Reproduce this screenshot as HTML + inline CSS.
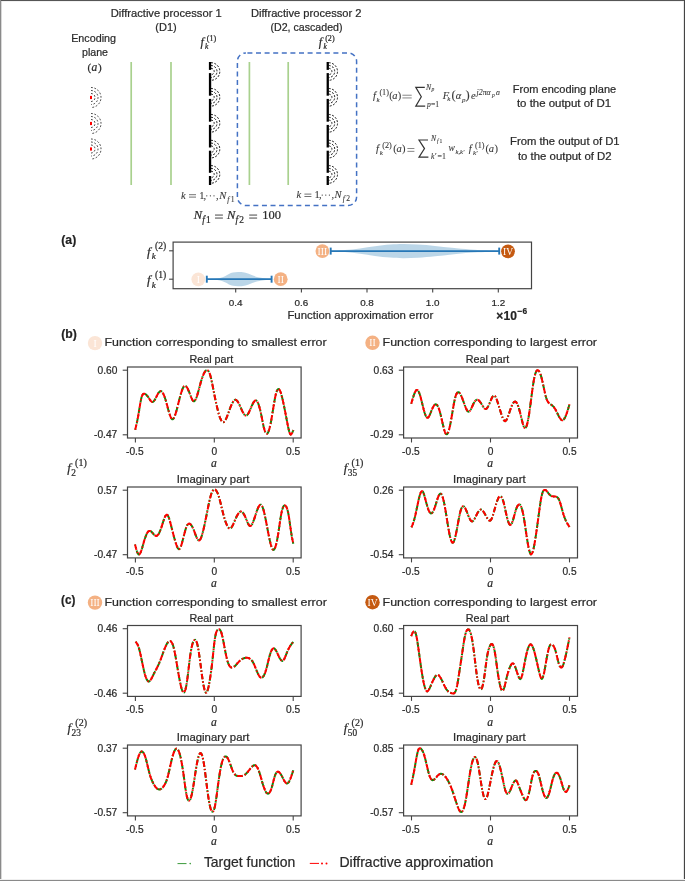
<!DOCTYPE html><html><head><meta charset="utf-8"><style>html,body{margin:0;padding:0;background:#fff;overflow:hidden;}svg{display:block;will-change:transform;} text{stroke:#2a2a2a;stroke-width:0.22px;} text.w{stroke:none;}</style></head><body>
<svg width="685" height="881" viewBox="0 0 685 881">
<rect x="0" y="0" width="685" height="881" fill="#fff"/>
<rect x="0" y="0" width="685" height="1" fill="#555"/>
<rect x="0" y="1" width="685" height="1" fill="#f2f2f2"/>
<rect x="0" y="0" width="1" height="881" fill="#8a8a8a"/>
<rect x="1" y="1" width="1" height="879" fill="#d8d8d8"/>
<rect x="683" y="1" width="1" height="879" fill="#e6e6e6"/>
<rect x="684" y="0" width="1" height="881" fill="#444"/>
<rect x="0" y="879" width="685" height="1" fill="#f0f0f0"/>
<rect x="0" y="880" width="685" height="1" fill="#8a8a8a"/>
<text x="166.2" y="16.9" font-family="Liberation Sans, sans-serif" font-size="11.20" font-weight="normal" font-style="normal" text-anchor="middle" fill="#2a2a2a" textLength="111.0" lengthAdjust="spacingAndGlyphs">Diffractive processor 1</text>
<text x="166.0" y="31.3" font-family="Liberation Sans, sans-serif" font-size="11.20" font-weight="normal" font-style="normal" text-anchor="middle" fill="#2a2a2a" textLength="21.4" lengthAdjust="spacingAndGlyphs">(D1)</text>
<text x="306.2" y="16.9" font-family="Liberation Sans, sans-serif" font-size="11.20" font-weight="normal" font-style="normal" text-anchor="middle" fill="#2a2a2a" textLength="110.5" lengthAdjust="spacingAndGlyphs">Diffractive processor 2</text>
<text x="306.5" y="31.0" font-family="Liberation Sans, sans-serif" font-size="11.20" font-weight="normal" font-style="normal" text-anchor="middle" fill="#2a2a2a" textLength="72.0" lengthAdjust="spacingAndGlyphs">(D2, cascaded)</text>
<text x="93.6" y="41.9" font-family="Liberation Sans, sans-serif" font-size="10.80" font-weight="normal" font-style="normal" text-anchor="middle" fill="#2a2a2a" textLength="44.8" lengthAdjust="spacingAndGlyphs">Encoding</text>
<text x="95.0" y="56.2" font-family="Liberation Sans, sans-serif" font-size="10.80" font-weight="normal" font-style="normal" text-anchor="middle" fill="#2a2a2a" textLength="26.0" lengthAdjust="spacingAndGlyphs">plane</text>
<text font-family="Liberation Serif, serif" font-size="11.00" fill="#2a2a2a"><tspan x="87.6" y="70.5" font-size="11.00">(</tspan><tspan x="91.6" y="70.5" font-size="11.50" font-style="italic">a</tspan><tspan x="98.0" y="70.5" font-size="11.00">)</tspan></text>
<text font-family="Liberation Serif, serif" font-size="12.20" fill="#2a2a2a"><tspan x="200.4" y="46.3" font-size="12.20" font-style="italic">f</tspan><tspan x="205.0" y="48.9" font-size="7.56" font-style="italic">k</tspan><tspan x="206.8" y="40.7" font-size="8.05">(1)</tspan></text>
<text font-family="Liberation Serif, serif" font-size="12.20" fill="#2a2a2a"><tspan x="318.8" y="46.3" font-size="12.20" font-style="italic">f</tspan><tspan x="323.4" y="48.9" font-size="7.56" font-style="italic">k</tspan><tspan x="325.2" y="40.7" font-size="8.05">(2)</tspan></text>
<line x1="131.2" y1="62" x2="131.2" y2="185" stroke="#a9d18e" stroke-width="1.7"/>
<line x1="171.0" y1="62" x2="171.0" y2="185" stroke="#a9d18e" stroke-width="1.7"/>
<line x1="249.4" y1="62" x2="249.4" y2="185" stroke="#a9d18e" stroke-width="1.7"/>
<line x1="288.2" y1="62" x2="288.2" y2="185" stroke="#a9d18e" stroke-width="1.7"/>
<rect x="208.9" y="62.0" width="2.3" height="7.9" fill="#000"/>
<rect x="208.9" y="73.1" width="2.3" height="22.6" fill="#000"/>
<rect x="208.9" y="98.9" width="2.3" height="22.8" fill="#000"/>
<rect x="208.9" y="124.9" width="2.3" height="22.6" fill="#000"/>
<rect x="208.9" y="150.7" width="2.3" height="22.1" fill="#000"/>
<rect x="208.9" y="176.0" width="2.3" height="9.0" fill="#000"/>
<path d="M211.00 68.30 A3.20 3.20 0 0 1 211.00 74.70" fill="none" stroke="#000" stroke-width="0.90" stroke-dasharray="2.0 1.5"/>
<path d="M211.00 65.50 A6.00 6.00 0 0 1 211.00 77.50" fill="none" stroke="#000" stroke-width="0.90" stroke-dasharray="2.0 1.5"/>
<path d="M211.00 62.70 A8.80 8.80 0 0 1 211.00 80.30" fill="none" stroke="#000" stroke-width="0.90" stroke-dasharray="2.0 1.5"/>
<path d="M211.00 94.10 A3.20 3.20 0 0 1 211.00 100.50" fill="none" stroke="#000" stroke-width="0.90" stroke-dasharray="2.0 1.5"/>
<path d="M211.00 91.30 A6.00 6.00 0 0 1 211.00 103.30" fill="none" stroke="#000" stroke-width="0.90" stroke-dasharray="2.0 1.5"/>
<path d="M211.00 88.50 A8.80 8.80 0 0 1 211.00 106.10" fill="none" stroke="#000" stroke-width="0.90" stroke-dasharray="2.0 1.5"/>
<path d="M211.00 120.10 A3.20 3.20 0 0 1 211.00 126.50" fill="none" stroke="#000" stroke-width="0.90" stroke-dasharray="2.0 1.5"/>
<path d="M211.00 117.30 A6.00 6.00 0 0 1 211.00 129.30" fill="none" stroke="#000" stroke-width="0.90" stroke-dasharray="2.0 1.5"/>
<path d="M211.00 114.50 A8.80 8.80 0 0 1 211.00 132.10" fill="none" stroke="#000" stroke-width="0.90" stroke-dasharray="2.0 1.5"/>
<path d="M211.00 145.90 A3.20 3.20 0 0 1 211.00 152.30" fill="none" stroke="#000" stroke-width="0.90" stroke-dasharray="2.0 1.5"/>
<path d="M211.00 143.10 A6.00 6.00 0 0 1 211.00 155.10" fill="none" stroke="#000" stroke-width="0.90" stroke-dasharray="2.0 1.5"/>
<path d="M211.00 140.30 A8.80 8.80 0 0 1 211.00 157.90" fill="none" stroke="#000" stroke-width="0.90" stroke-dasharray="2.0 1.5"/>
<path d="M211.00 171.20 A3.20 3.20 0 0 1 211.00 177.60" fill="none" stroke="#000" stroke-width="0.90" stroke-dasharray="2.0 1.5"/>
<path d="M211.00 168.40 A6.00 6.00 0 0 1 211.00 180.40" fill="none" stroke="#000" stroke-width="0.90" stroke-dasharray="2.0 1.5"/>
<path d="M211.00 165.60 A8.80 8.80 0 0 1 211.00 183.20" fill="none" stroke="#000" stroke-width="0.90" stroke-dasharray="2.0 1.5"/>
<rect x="326.6" y="62.0" width="2.3" height="7.9" fill="#000"/>
<rect x="326.6" y="73.1" width="2.3" height="22.6" fill="#000"/>
<rect x="326.6" y="98.9" width="2.3" height="22.8" fill="#000"/>
<rect x="326.6" y="124.9" width="2.3" height="22.6" fill="#000"/>
<rect x="326.6" y="150.7" width="2.3" height="22.1" fill="#000"/>
<rect x="326.6" y="176.0" width="2.3" height="9.0" fill="#000"/>
<path d="M328.70 68.30 A3.20 3.20 0 0 1 328.70 74.70" fill="none" stroke="#000" stroke-width="0.90" stroke-dasharray="2.0 1.5"/>
<path d="M328.70 65.50 A6.00 6.00 0 0 1 328.70 77.50" fill="none" stroke="#000" stroke-width="0.90" stroke-dasharray="2.0 1.5"/>
<path d="M328.70 62.70 A8.80 8.80 0 0 1 328.70 80.30" fill="none" stroke="#000" stroke-width="0.90" stroke-dasharray="2.0 1.5"/>
<path d="M328.70 94.10 A3.20 3.20 0 0 1 328.70 100.50" fill="none" stroke="#000" stroke-width="0.90" stroke-dasharray="2.0 1.5"/>
<path d="M328.70 91.30 A6.00 6.00 0 0 1 328.70 103.30" fill="none" stroke="#000" stroke-width="0.90" stroke-dasharray="2.0 1.5"/>
<path d="M328.70 88.50 A8.80 8.80 0 0 1 328.70 106.10" fill="none" stroke="#000" stroke-width="0.90" stroke-dasharray="2.0 1.5"/>
<path d="M328.70 120.10 A3.20 3.20 0 0 1 328.70 126.50" fill="none" stroke="#000" stroke-width="0.90" stroke-dasharray="2.0 1.5"/>
<path d="M328.70 117.30 A6.00 6.00 0 0 1 328.70 129.30" fill="none" stroke="#000" stroke-width="0.90" stroke-dasharray="2.0 1.5"/>
<path d="M328.70 114.50 A8.80 8.80 0 0 1 328.70 132.10" fill="none" stroke="#000" stroke-width="0.90" stroke-dasharray="2.0 1.5"/>
<path d="M328.70 145.90 A3.20 3.20 0 0 1 328.70 152.30" fill="none" stroke="#000" stroke-width="0.90" stroke-dasharray="2.0 1.5"/>
<path d="M328.70 143.10 A6.00 6.00 0 0 1 328.70 155.10" fill="none" stroke="#000" stroke-width="0.90" stroke-dasharray="2.0 1.5"/>
<path d="M328.70 140.30 A8.80 8.80 0 0 1 328.70 157.90" fill="none" stroke="#000" stroke-width="0.90" stroke-dasharray="2.0 1.5"/>
<path d="M328.70 171.20 A3.20 3.20 0 0 1 328.70 177.60" fill="none" stroke="#000" stroke-width="0.90" stroke-dasharray="2.0 1.5"/>
<path d="M328.70 168.40 A6.00 6.00 0 0 1 328.70 180.40" fill="none" stroke="#000" stroke-width="0.90" stroke-dasharray="2.0 1.5"/>
<path d="M328.70 165.60 A8.80 8.80 0 0 1 328.70 183.20" fill="none" stroke="#000" stroke-width="0.90" stroke-dasharray="2.0 1.5"/>
<rect x="90" y="95.9" width="2" height="3.2" fill="#ff0000"/>
<path d="M91.00 93.50 A4.00 4.00 0 0 1 91.00 101.50" fill="none" stroke="#000" stroke-width="0.75" stroke-dasharray="1.8 1.7"/>
<path d="M91.00 90.50 A7.00 7.00 0 0 1 91.00 104.50" fill="none" stroke="#000" stroke-width="0.75" stroke-dasharray="1.8 1.7"/>
<path d="M91.00 87.50 A10.00 10.00 0 0 1 91.00 107.50" fill="none" stroke="#000" stroke-width="0.75" stroke-dasharray="1.8 1.7"/>
<rect x="90" y="121.9" width="2" height="3.2" fill="#ff0000"/>
<path d="M91.00 119.50 A4.00 4.00 0 0 1 91.00 127.50" fill="none" stroke="#000" stroke-width="0.75" stroke-dasharray="1.8 1.7"/>
<path d="M91.00 116.50 A7.00 7.00 0 0 1 91.00 130.50" fill="none" stroke="#000" stroke-width="0.75" stroke-dasharray="1.8 1.7"/>
<path d="M91.00 113.50 A10.00 10.00 0 0 1 91.00 133.50" fill="none" stroke="#000" stroke-width="0.75" stroke-dasharray="1.8 1.7"/>
<rect x="90" y="147.4" width="2" height="3.2" fill="#ff0000"/>
<path d="M91.00 145.00 A4.00 4.00 0 0 1 91.00 153.00" fill="none" stroke="#000" stroke-width="0.75" stroke-dasharray="1.8 1.7"/>
<path d="M91.00 142.00 A7.00 7.00 0 0 1 91.00 156.00" fill="none" stroke="#000" stroke-width="0.75" stroke-dasharray="1.8 1.7"/>
<path d="M91.00 139.00 A10.00 10.00 0 0 1 91.00 159.00" fill="none" stroke="#000" stroke-width="0.75" stroke-dasharray="1.8 1.7"/>
<rect x="237.4" y="52.9" width="119.2" height="152.6" rx="8.5" ry="8.5" fill="none" stroke="#4472c4" stroke-width="1.5" stroke-dasharray="5.0 3.6" stroke-dashoffset="-1.5"/>
<rect x="189.0" y="194.4" width="7.0" height="0.75" fill="#444"/><rect x="189.0" y="196.7" width="7.0" height="0.75" fill="#444"/>
<circle cx="206.8" cy="195.8" r="0.62" fill="#333"/>
<circle cx="210.4" cy="195.8" r="0.62" fill="#333"/>
<circle cx="214.0" cy="195.8" r="0.62" fill="#333"/>
<text font-family="Liberation Serif, serif" font-size="10.50" fill="#3a3a3a" style="stroke:#3a3a3a;stroke-width:0.1px"><tspan x="181.0" y="199.0" font-size="10.50" font-style="italic">k</tspan><tspan x="199.2" y="199.0" font-size="10.50">1</tspan><tspan x="203.6" y="199.0" font-size="10.50">,</tspan><tspan x="216.0" y="199.0" font-size="10.50">,</tspan><tspan x="219.2" y="199.0" font-size="10.50" font-style="italic">N</tspan><tspan x="227.3" y="201.6" font-size="7.60" font-style="italic">f</tspan><tspan x="230.8" y="201.6" font-size="7.60">1</tspan></text>
<rect x="304.4" y="193.7" width="7.0" height="0.75" fill="#444"/><rect x="304.4" y="196.0" width="7.0" height="0.75" fill="#444"/>
<circle cx="322.2" cy="195.1" r="0.62" fill="#333"/>
<circle cx="325.8" cy="195.1" r="0.62" fill="#333"/>
<circle cx="329.4" cy="195.1" r="0.62" fill="#333"/>
<text font-family="Liberation Serif, serif" font-size="10.50" fill="#3a3a3a" style="stroke:#3a3a3a;stroke-width:0.1px"><tspan x="296.4" y="198.3" font-size="10.50" font-style="italic">k</tspan><tspan x="314.6" y="198.3" font-size="10.50">1</tspan><tspan x="319.0" y="198.3" font-size="10.50">,</tspan><tspan x="331.4" y="198.3" font-size="10.50">,</tspan><tspan x="334.6" y="198.3" font-size="10.50" font-style="italic">N</tspan><tspan x="342.7" y="200.9" font-size="7.60" font-style="italic">f</tspan><tspan x="346.2" y="200.9" font-size="7.60">2</tspan></text>
<text font-family="Liberation Serif, serif" font-size="12.50" fill="#2a2a2a"><tspan x="193.7" y="219.2" font-size="12.50" font-style="italic">N</tspan><tspan x="202.2" y="222.6" font-size="9.40" font-style="italic">f</tspan><tspan x="206.0" y="222.6" font-size="9.40">1</tspan><tspan x="227.0" y="219.2" font-size="12.50" font-style="italic">N</tspan><tspan x="235.5" y="222.6" font-size="9.40" font-style="italic">f</tspan><tspan x="239.3" y="222.6" font-size="9.40">2</tspan><tspan x="262.3" y="219.2" font-size="12.50">100</tspan></text>
<rect x="215.0" y="214.6" width="7.9" height="0.9" fill="#333"/>
<rect x="215.0" y="217.6" width="7.9" height="0.9" fill="#333"/>
<rect x="249.2" y="214.6" width="7.9" height="0.9" fill="#333"/>
<rect x="249.2" y="217.6" width="7.9" height="0.9" fill="#333"/>
<text font-family="Liberation Serif, serif" font-size="10.50" fill="#383838" style="stroke:#383838;stroke-width:0.1px"><tspan x="373.1" y="98.7" font-size="10.50" font-style="italic">f</tspan><tspan x="376.6" y="101.5" font-size="7.00" font-style="italic">k</tspan><tspan x="379.4" y="95.4" font-size="8.20">(1)</tspan><tspan x="389.2" y="98.7" font-size="10.50">(</tspan><tspan x="392.2" y="98.7" font-size="10.50" font-style="italic">a</tspan><tspan x="397.8" y="98.7" font-size="10.50">)</tspan></text>
<rect x="402.4" y="94.8" width="9.3" height="0.7" fill="#555"/><rect x="402.4" y="97.6" width="9.3" height="0.7" fill="#555"/>
<path d="M424.8 87.4 L415.8 87.4 L421.3 96.8 L415.8 106.2 L425.2 106.2" fill="none" stroke="#333" stroke-width="1.2"/>
<text font-family="Liberation Serif, serif" font-size="7.00" fill="#383838" style="stroke:#383838;stroke-width:0.1px"><tspan x="426.0" y="89.8" font-size="7.60" font-style="italic">N</tspan><tspan x="431.4" y="91.4" font-size="5.60" font-style="italic">p</tspan></text>
<text font-family="Liberation Serif, serif" font-size="7.00" fill="#383838" style="stroke:#383838;stroke-width:0.1px"><tspan x="427.0" y="107.2" font-size="7.60" font-style="italic">p</tspan><tspan x="431.0" y="107.2" font-size="7.60">=1</tspan></text>
<text font-family="Liberation Serif, serif" font-size="10.50" fill="#383838" style="stroke:#383838;stroke-width:0.1px"><tspan x="442.7" y="98.7" font-size="10.50" font-style="italic">F</tspan><tspan x="447.3" y="100.9" font-size="7.00" font-style="italic">k</tspan><tspan x="451.6" y="99.2" font-size="12.50">(</tspan><tspan x="455.8" y="98.7" font-size="10.50" font-style="italic">α</tspan><tspan x="461.9" y="101.5" font-size="7.00" font-style="italic">p</tspan><tspan x="465.4" y="99.2" font-size="12.50">)</tspan><tspan x="471.0" y="98.7" font-size="10.50" font-style="italic">e</tspan><tspan x="476.6" y="94.8" font-size="7.80" font-style="italic">j2πα</tspan><tspan x="492.0" y="96.6" font-size="5.60" font-style="italic">p</tspan><tspan x="496.0" y="94.8" font-size="7.80" font-style="italic">a</tspan></text>
<text font-family="Liberation Serif, serif" font-size="10.50" fill="#383838" style="stroke:#383838;stroke-width:0.1px"><tspan x="376.1" y="152.0" font-size="10.50" font-style="italic">f</tspan><tspan x="379.7" y="154.8" font-size="7.00" font-style="italic">k</tspan><tspan x="382.2" y="147.6" font-size="8.20">(2)</tspan><tspan x="393.3" y="152.0" font-size="10.50">(</tspan><tspan x="396.6" y="152.0" font-size="10.50" font-style="italic">a</tspan><tspan x="402.0" y="152.0" font-size="10.50">)</tspan></text>
<rect x="407.4" y="148.2" width="7.0" height="0.7" fill="#555"/><rect x="407.4" y="150.9" width="7.0" height="0.7" fill="#555"/>
<path d="M428.0 140.0 L419.0 140.0 L424.5 148.6 L419.0 157.2 L428.4 157.2" fill="none" stroke="#333" stroke-width="1.2"/>
<text font-family="Liberation Serif, serif" font-size="7.00" fill="#383838" style="stroke:#383838;stroke-width:0.1px"><tspan x="431.0" y="141.0" font-size="7.60" font-style="italic">N</tspan><tspan x="437.0" y="142.8" font-size="5.60" font-style="italic">f</tspan><tspan x="439.6" y="142.8" font-size="5.60">1</tspan></text>
<text font-family="Liberation Serif, serif" font-size="7.00" fill="#383838" style="stroke:#383838;stroke-width:0.1px"><tspan x="431.0" y="159.0" font-size="7.80" font-style="italic">k′</tspan><tspan x="437.6" y="159.0" font-size="7.80">=1</tspan></text>
<text font-family="Liberation Serif, serif" font-size="10.50" fill="#383838" style="stroke:#383838;stroke-width:0.1px"><tspan x="448.4" y="151.0" font-size="9.50" font-style="italic">w</tspan><tspan x="455.5" y="153.8" font-size="6.60" font-style="italic">k,k′</tspan><tspan x="468.8" y="152.0" font-size="10.50" font-style="italic">f</tspan><tspan x="472.9" y="155.0" font-size="7.00" font-style="italic">k′</tspan><tspan x="475.0" y="147.6" font-size="8.20">(1)</tspan><tspan x="485.5" y="152.0" font-size="10.50">(</tspan><tspan x="488.8" y="152.0" font-size="10.50" font-style="italic">a</tspan><tspan x="494.4" y="152.0" font-size="10.50">)</tspan></text>
<text x="564.5" y="92.9" font-family="Liberation Sans, sans-serif" font-size="11.00" font-weight="normal" font-style="normal" text-anchor="middle" fill="#2a2a2a" textLength="103.3" lengthAdjust="spacingAndGlyphs">From encoding plane</text>
<text x="564.0" y="106.9" font-family="Liberation Sans, sans-serif" font-size="11.00" font-weight="normal" font-style="normal" text-anchor="middle" fill="#2a2a2a" textLength="94.1" lengthAdjust="spacingAndGlyphs">to the output of D1</text>
<text x="564.8" y="145.1" font-family="Liberation Sans, sans-serif" font-size="11.00" font-weight="normal" font-style="normal" text-anchor="middle" fill="#2a2a2a" textLength="109.5" lengthAdjust="spacingAndGlyphs">From the output of D1</text>
<text x="564.8" y="159.7" font-family="Liberation Sans, sans-serif" font-size="11.00" font-weight="normal" font-style="normal" text-anchor="middle" fill="#2a2a2a" textLength="93.8" lengthAdjust="spacingAndGlyphs">to the output of D2</text>
<text x="61.3" y="244.4" font-family="Liberation Sans, sans-serif" font-size="12.60" font-weight="bold" font-style="normal" text-anchor="start" fill="#222" textLength="14.9" lengthAdjust="spacingAndGlyphs">(a)</text>
<path d="M207.00 278.90 C208.17 278.87 211.83 278.85 214.00 278.70 C216.17 278.55 218.17 278.42 220.00 278.00 C221.83 277.58 223.50 276.87 225.00 276.20 C226.50 275.53 227.67 274.60 229.00 274.00 C230.33 273.40 231.50 272.92 233.00 272.60 C234.50 272.28 236.33 272.15 238.00 272.10 C239.67 272.05 241.33 272.05 243.00 272.30 C244.67 272.55 246.33 273.05 248.00 273.60 C249.67 274.15 251.33 275.00 253.00 275.60 C254.67 276.20 256.17 276.77 258.00 277.20 C259.83 277.63 261.75 277.92 264.00 278.20 C266.25 278.48 270.25 278.78 271.50 278.90 L271.50 279.50 C270.25 279.62 266.25 279.92 264.00 280.20 C261.75 280.48 259.83 280.77 258.00 281.20 C256.17 281.63 254.67 282.20 253.00 282.80 C251.33 283.40 249.67 284.25 248.00 284.80 C246.33 285.35 244.67 285.85 243.00 286.10 C241.33 286.35 239.67 286.35 238.00 286.30 C236.33 286.25 234.50 286.12 233.00 285.80 C231.50 285.48 230.33 285.00 229.00 284.40 C227.67 283.80 226.50 282.87 225.00 282.20 C223.50 281.53 221.83 280.82 220.00 280.40 C218.17 279.98 216.17 279.85 214.00 279.70 C211.83 279.55 208.17 279.53 207.00 279.50 Z" fill="#1f77b4" fill-opacity="0.3" stroke="none"/>
<path d="M331.00 250.80 C333.33 250.68 340.17 250.48 345.00 250.10 C349.83 249.72 355.00 249.13 360.00 248.50 C365.00 247.87 370.00 246.95 375.00 246.30 C380.00 245.65 385.33 244.98 390.00 244.60 C394.67 244.22 398.33 244.02 403.00 244.00 C407.67 243.98 412.67 244.18 418.00 244.50 C423.33 244.82 429.33 245.35 435.00 245.90 C440.67 246.45 446.17 247.20 452.00 247.80 C457.83 248.40 464.50 249.08 470.00 249.50 C475.50 249.92 480.17 250.08 485.00 250.30 C489.83 250.52 496.67 250.72 499.00 250.80 L499.00 251.40 C496.67 251.48 489.83 251.68 485.00 251.90 C480.17 252.12 475.50 252.28 470.00 252.70 C464.50 253.12 457.83 253.80 452.00 254.40 C446.17 255.00 440.67 255.75 435.00 256.30 C429.33 256.85 423.33 257.38 418.00 257.70 C412.67 258.02 407.67 258.22 403.00 258.20 C398.33 258.18 394.67 257.98 390.00 257.60 C385.33 257.22 380.00 256.55 375.00 255.90 C370.00 255.25 365.00 254.33 360.00 253.70 C355.00 253.07 349.83 252.48 345.00 252.10 C340.17 251.72 333.33 251.52 331.00 251.40 Z" fill="#1f77b4" fill-opacity="0.3" stroke="none"/>
<line x1="206.8" y1="279.2" x2="271.6" y2="279.2" stroke="#2677b7" stroke-width="1.8"/>
<line x1="206.8" y1="275.7" x2="206.8" y2="282.7" stroke="#2677b7" stroke-width="1.9"/>
<line x1="271.6" y1="275.7" x2="271.6" y2="282.7" stroke="#2677b7" stroke-width="1.9"/>
<line x1="330.7" y1="251.1" x2="499.2" y2="251.1" stroke="#2677b7" stroke-width="1.8"/>
<line x1="330.7" y1="247.6" x2="330.7" y2="254.6" stroke="#2677b7" stroke-width="1.9"/>
<line x1="499.2" y1="247.6" x2="499.2" y2="254.6" stroke="#2677b7" stroke-width="1.9"/>
<rect x="173.1" y="242.1" width="358.4" height="46.6" fill="none" stroke="#444" stroke-width="1.2"/>
<line x1="235.7" y1="288.6" x2="235.7" y2="292.6" stroke="#444" stroke-width="1.1"/>
<text x="235.7" y="305.8" font-family="Liberation Sans, sans-serif" font-size="9.90" font-weight="normal" font-style="normal" text-anchor="middle" fill="#2a2a2a">0.4</text>
<line x1="301.4" y1="288.6" x2="301.4" y2="292.6" stroke="#444" stroke-width="1.1"/>
<text x="301.4" y="305.8" font-family="Liberation Sans, sans-serif" font-size="9.90" font-weight="normal" font-style="normal" text-anchor="middle" fill="#2a2a2a">0.6</text>
<line x1="367.0" y1="288.6" x2="367.0" y2="292.6" stroke="#444" stroke-width="1.1"/>
<text x="367.0" y="305.8" font-family="Liberation Sans, sans-serif" font-size="9.90" font-weight="normal" font-style="normal" text-anchor="middle" fill="#2a2a2a">0.8</text>
<line x1="432.7" y1="288.6" x2="432.7" y2="292.6" stroke="#444" stroke-width="1.1"/>
<text x="432.7" y="305.8" font-family="Liberation Sans, sans-serif" font-size="9.90" font-weight="normal" font-style="normal" text-anchor="middle" fill="#2a2a2a">1.0</text>
<line x1="498.3" y1="288.6" x2="498.3" y2="292.6" stroke="#444" stroke-width="1.1"/>
<text x="498.3" y="305.8" font-family="Liberation Sans, sans-serif" font-size="9.90" font-weight="normal" font-style="normal" text-anchor="middle" fill="#2a2a2a">1.2</text>
<line x1="169.1" y1="250.8" x2="173.1" y2="250.8" stroke="#444" stroke-width="1.1"/>
<line x1="169.1" y1="279.2" x2="173.1" y2="279.2" stroke="#444" stroke-width="1.1"/>
<text font-family="Liberation Serif, serif" font-size="13.00" fill="#2a2a2a"><tspan x="147.0" y="255.8" font-size="13.00" font-style="italic">f</tspan><tspan x="151.8" y="259.2" font-size="9.10" font-style="italic">k</tspan><tspan x="155.1" y="249.2" font-size="9.60">(2)</tspan></text>
<text font-family="Liberation Serif, serif" font-size="13.00" fill="#2a2a2a"><tspan x="147.0" y="284.3" font-size="13.00" font-style="italic">f</tspan><tspan x="151.8" y="287.7" font-size="9.10" font-style="italic">k</tspan><tspan x="155.1" y="277.7" font-size="9.60">(1)</tspan></text>
<text x="360.3" y="318.9" font-family="Liberation Sans, sans-serif" font-size="11.40" font-weight="normal" font-style="normal" text-anchor="middle" fill="#2a2a2a" textLength="145.8" lengthAdjust="spacingAndGlyphs">Function approximation error</text>
<text font-family="Liberation Sans, sans-serif" font-weight="bold" fill="#222" font-size="12"><tspan x="496.2" y="320.0">×</tspan><tspan x="503.6" y="320.0">10</tspan><tspan x="517.6" y="313.8" font-size="8.4">−6</tspan></text>

<circle cx="198.3" cy="279.3" r="6.9" fill="#fbe5d6"/>
<text class="w" x="198.3" y="282.7" font-family="Liberation Serif, serif" font-size="9.6" fill="#fff" text-anchor="middle">I</text>
<circle cx="280.7" cy="279.2" r="6.9" fill="#f4b183"/>
<text class="w" x="280.7" y="282.6" font-family="Liberation Serif, serif" font-size="9.6" fill="#fff" text-anchor="middle">II</text>
<circle cx="322.4" cy="251.1" r="6.9" fill="#f4b183"/>
<text class="w" x="322.4" y="254.5" font-family="Liberation Serif, serif" font-size="9.6" fill="#fff" text-anchor="middle">III</text>
<circle cx="508.0" cy="251.3" r="6.9" fill="#c55a11"/>
<text class="w" x="508.0" y="254.7" font-family="Liberation Serif, serif" font-size="9.6" fill="#fff" text-anchor="middle">IV</text>
<defs><path id="c00" d="M135.2 429.7L135.7 427.7L136.2 425.6L136.7 423.4L137.2 421.1L137.7 418.6L138.2 415.9L138.7 413.0L139.2 409.9L139.7 406.8L140.2 403.8L140.7 401.1L141.2 398.7L141.7 396.8L142.2 395.4L142.7 394.5L143.2 393.9L143.7 393.7L144.2 393.7L144.7 393.8L145.2 394.0L145.7 394.4L146.2 394.8L146.7 395.2L147.2 395.8L147.7 396.4L148.2 397.1L148.7 397.8L149.2 398.6L149.7 399.4L150.2 400.1L150.7 400.8L151.2 401.4L151.7 401.8L152.2 402.1L152.7 402.1L153.2 401.8L153.7 401.4L154.2 400.7L154.7 400.0L155.2 399.1L155.7 398.1L156.2 397.1L156.7 396.1L157.2 395.1L157.7 394.2L158.2 393.4L158.7 392.7L159.2 392.1L159.7 391.6L160.2 391.3L160.7 391.1L161.2 391.2L161.7 391.5L162.2 392.0L162.7 392.7L163.2 393.6L163.7 394.6L164.2 395.8L164.7 397.2L165.2 398.7L165.7 400.3L166.2 402.0L166.7 403.8L167.2 405.6L167.7 407.5L168.2 409.4L168.7 411.2L169.2 412.9L169.7 414.5L170.2 415.9L170.7 417.1L171.2 418.1L171.7 418.8L172.2 419.2L172.7 419.2L173.2 418.9L173.7 418.3L174.2 417.4L174.7 416.3L175.2 414.9L175.7 413.4L176.2 411.7L176.7 409.9L177.2 408.0L177.7 406.0L178.2 404.0L178.7 402.0L179.2 400.0L179.7 398.1L180.2 396.2L180.7 394.4L181.2 392.7L181.7 391.2L182.2 389.8L182.7 388.5L183.2 387.5L183.7 386.7L184.2 386.1L184.7 385.8L185.2 385.8L185.7 386.0L186.2 386.4L186.7 387.0L187.2 387.8L187.7 388.7L188.2 389.8L188.7 391.0L189.2 392.2L189.7 393.5L190.2 394.8L190.7 396.1L191.2 397.4L191.7 398.5L192.2 399.5L192.7 400.3L193.2 400.9L193.7 401.2L194.2 401.2L194.7 400.8L195.2 400.2L195.7 399.3L196.2 398.1L196.7 396.8L197.2 395.3L197.7 393.6L198.2 391.9L198.7 390.0L199.2 388.2L199.7 386.3L200.2 384.4L200.7 382.6L201.2 380.9L201.7 379.3L202.2 377.8L202.7 376.4L203.2 375.1L203.7 373.9L204.2 372.9L204.7 372.0L205.2 371.3L205.7 370.7L206.2 370.3L206.7 370.1L207.2 370.1L207.7 370.4L208.2 370.8L208.7 371.5L209.2 372.4L209.7 373.6L210.2 375.1L210.7 376.9L211.2 379.0L211.7 381.2L212.2 383.6L212.7 386.0L213.2 388.6L213.7 391.2L214.2 393.7L214.7 396.2L215.2 398.7L215.7 401.1L216.2 403.4L216.7 405.6L217.2 407.8L217.7 409.8L218.2 411.7L218.7 413.6L219.2 415.2L219.7 416.8L220.2 418.1L220.7 419.3L221.2 420.3L221.7 421.1L222.2 421.7L222.7 422.1L223.2 422.2L223.7 422.1L224.2 421.7L224.7 421.2L225.2 420.4L225.7 419.5L226.2 418.5L226.7 417.4L227.2 416.1L227.7 414.8L228.2 413.5L228.7 412.1L229.2 410.7L229.7 409.3L230.2 408.0L230.7 406.7L231.2 405.5L231.7 404.3L232.2 403.3L232.7 402.4L233.2 401.6L233.7 400.9L234.2 400.4L234.7 400.0L235.2 399.8L235.7 399.8L236.2 400.0L236.7 400.4L237.2 400.9L237.7 401.6L238.2 402.4L238.7 403.3L239.2 404.3L239.7 405.3L240.2 406.4L240.7 407.5L241.2 408.7L241.7 409.8L242.2 410.9L242.7 411.9L243.2 412.8L243.7 413.7L244.2 414.4L244.7 415.0L245.2 415.4L245.7 415.6L246.2 415.6L246.7 415.4L247.2 414.9L247.7 414.3L248.2 413.6L248.7 412.7L249.2 411.7L249.7 410.7L250.2 409.5L250.7 408.4L251.2 407.2L251.7 406.1L252.2 405.0L252.7 403.9L253.2 403.0L253.7 402.1L254.2 401.4L254.7 400.9L255.2 400.5L255.7 400.4L256.2 400.5L256.7 400.9L257.2 401.5L257.7 402.4L258.2 403.5L258.7 404.8L259.2 406.4L259.7 408.2L260.2 410.1L260.7 412.3L261.2 414.6L261.7 417.1L262.2 419.6L262.7 422.2L263.2 424.6L263.7 426.9L264.2 428.9L264.7 430.5L265.2 431.9L265.7 432.9L266.2 433.5L266.7 433.8L267.2 433.7L267.7 433.1L268.2 432.2L268.7 431.0L269.2 429.5L269.7 427.6L270.2 425.5L270.7 423.2L271.2 420.6L271.7 417.8L272.2 414.8L272.7 411.7L273.2 408.6L273.7 405.5L274.2 402.5L274.7 399.7L275.2 397.1L275.7 394.8L276.2 392.9L276.7 391.4L277.2 390.2L277.7 389.5L278.2 389.1L278.7 389.0L279.2 389.4L279.7 390.1L280.2 391.1L280.7 392.4L281.2 394.0L281.7 395.7L282.2 397.7L282.7 399.9L283.2 402.1L283.7 404.5L284.2 406.9L284.7 409.4L285.2 411.9L285.7 414.5L286.2 417.1L286.7 419.7L287.2 422.3L287.7 424.8L288.2 427.3L288.7 429.6L289.2 431.6L289.7 433.2L290.2 434.1L290.7 434.5L291.2 434.3L291.7 433.7L292.2 432.7L292.7 431.6L293.2 430.3L293.3 430.0"/></defs>
<use href="#c00" fill="none" stroke="#0a8a0a" stroke-width="2.0" stroke-dasharray="5.4 2.0 1.4 2.0" stroke-dashoffset="4.5"/>
<use href="#c00" fill="none" stroke="#ff0000" stroke-width="2.0" stroke-dasharray="5.7 2.0 1.4 2.0" stroke-dashoffset="0"/>
<rect x="127.5" y="367.0" width="173.6" height="71.0" fill="none" stroke="#444" stroke-width="1.2"/>
<line x1="122.7" y1="370.2" x2="127.5" y2="370.2" stroke="#444" stroke-width="1.1"/>
<text x="117.3" y="373.8" font-family="Liberation Sans, sans-serif" font-size="10.20" font-weight="normal" font-style="normal" text-anchor="end" fill="#2a2a2a">0.60</text>
<line x1="122.7" y1="434.8" x2="127.5" y2="434.8" stroke="#444" stroke-width="1.1"/>
<text x="117.3" y="438.3" font-family="Liberation Sans, sans-serif" font-size="10.20" font-weight="normal" font-style="normal" text-anchor="end" fill="#2a2a2a">-0.47</text>
<line x1="135.4" y1="438.0" x2="135.4" y2="442.5" stroke="#444" stroke-width="1.1"/>
<text x="134.8" y="454.7" font-family="Liberation Sans, sans-serif" font-size="10.20" font-weight="normal" font-style="normal" text-anchor="middle" fill="#2a2a2a">-0.5</text>
<line x1="214.3" y1="438.0" x2="214.3" y2="442.5" stroke="#444" stroke-width="1.1"/>
<text x="214.3" y="454.7" font-family="Liberation Sans, sans-serif" font-size="10.20" font-weight="normal" font-style="normal" text-anchor="middle" fill="#2a2a2a">0</text>
<line x1="293.2" y1="438.0" x2="293.2" y2="442.5" stroke="#444" stroke-width="1.1"/>
<text x="293.2" y="454.7" font-family="Liberation Sans, sans-serif" font-size="10.20" font-weight="normal" font-style="normal" text-anchor="middle" fill="#2a2a2a">0.5</text>
<text x="214.0" y="467.2" font-family="Liberation Serif, serif" font-size="11.60" font-weight="normal" font-style="italic" text-anchor="middle" fill="#2a2a2a">a</text>
<text x="211.3" y="363.2" font-family="Liberation Sans, sans-serif" font-size="10.90" font-weight="normal" font-style="normal" text-anchor="middle" fill="#2a2a2a" textLength="43.7" lengthAdjust="spacingAndGlyphs">Real part</text>
<defs><path id="c01" d="M411.2 403.8L411.7 402.1L412.2 400.4L412.7 398.7L413.2 397.1L413.7 395.6L414.2 394.2L414.7 392.9L415.2 391.8L415.7 390.9L416.2 390.3L416.7 389.9L417.2 389.9L417.7 390.2L418.2 390.8L418.7 391.7L419.2 392.8L419.7 394.2L420.2 395.8L420.7 397.5L421.2 399.4L421.7 401.4L422.2 403.4L422.7 405.5L423.2 407.5L423.7 409.5L424.2 411.3L424.7 413.0L425.2 414.4L425.7 415.7L426.2 416.7L426.7 417.4L427.2 417.7L427.7 417.8L428.2 417.5L428.7 416.9L429.2 416.0L429.7 415.0L430.2 413.8L430.7 412.6L431.2 411.3L431.7 410.1L432.2 408.9L432.7 407.8L433.2 406.9L433.7 406.0L434.2 405.3L434.7 404.8L435.2 404.5L435.7 404.3L436.2 404.4L436.7 404.7L437.2 405.2L437.7 406.0L438.2 407.0L438.7 408.2L439.2 409.6L439.7 411.3L440.2 413.1L440.7 415.1L441.2 417.2L441.7 419.3L442.2 421.5L442.7 423.7L443.2 425.8L443.7 427.8L444.2 429.7L444.7 431.3L445.2 432.6L445.7 433.6L446.2 434.2L446.7 434.3L447.2 434.1L447.7 433.3L448.2 432.3L448.7 430.8L449.2 429.1L449.7 427.0L450.2 424.7L450.7 422.2L451.2 419.5L451.7 416.6L452.2 413.6L452.7 410.6L453.2 407.6L453.7 404.8L454.2 402.1L454.7 399.7L455.2 397.6L455.7 395.9L456.2 394.5L456.7 393.5L457.2 392.8L457.7 392.4L458.2 392.2L458.7 392.3L459.2 392.6L459.7 393.1L460.2 393.9L460.7 394.7L461.2 395.8L461.7 396.9L462.2 398.1L462.7 399.5L463.2 400.8L463.7 402.2L464.2 403.7L464.7 405.1L465.2 406.4L465.7 407.7L466.2 408.8L466.7 409.8L467.2 410.6L467.7 411.2L468.2 411.6L468.7 411.7L469.2 411.5L469.7 411.1L470.2 410.4L470.7 409.6L471.2 408.7L471.7 407.6L472.2 406.5L472.7 405.4L473.2 404.3L473.7 403.3L474.2 402.4L474.7 401.6L475.2 400.9L475.7 400.4L476.2 400.1L476.7 399.8L477.2 399.8L477.7 399.8L478.2 400.0L478.7 400.4L479.2 400.8L479.7 401.4L480.2 402.0L480.7 402.7L481.2 403.5L481.7 404.3L482.2 405.2L482.7 406.0L483.2 406.8L483.7 407.6L484.2 408.2L484.7 408.6L485.2 408.9L485.7 409.0L486.2 408.9L486.7 408.5L487.2 407.9L487.7 407.1L488.2 406.2L488.7 405.2L489.2 404.1L489.7 402.9L490.2 401.8L490.7 400.6L491.2 399.4L491.7 398.3L492.2 397.3L492.7 396.5L493.2 395.9L493.7 395.6L494.2 395.5L494.7 395.8L495.2 396.3L495.7 397.2L496.2 398.2L496.7 399.5L497.2 400.9L497.7 402.4L498.2 404.0L498.7 405.6L499.2 407.3L499.7 408.9L500.2 410.5L500.7 412.1L501.2 413.7L501.7 415.2L502.2 416.6L502.7 417.9L503.2 419.0L503.7 419.9L504.2 420.6L504.7 421.0L505.2 421.1L505.7 420.8L506.2 420.3L506.7 419.5L507.2 418.5L507.7 417.3L508.2 415.9L508.7 414.5L509.2 413.0L509.7 411.5L510.2 410.0L510.7 408.6L511.2 407.2L511.7 406.0L512.2 404.9L512.7 403.9L513.2 403.0L513.7 402.4L514.2 401.9L514.7 401.7L515.2 401.6L515.7 401.9L516.2 402.3L516.7 402.9L517.2 403.8L517.7 404.9L518.2 406.2L518.7 407.7L519.2 409.4L519.7 411.2L520.2 413.1L520.7 415.1L521.2 417.2L521.7 419.3L522.2 421.3L522.7 423.2L523.2 424.9L523.7 426.3L524.2 427.4L524.7 428.0L525.2 428.1L525.7 427.7L526.2 426.9L526.7 425.6L527.2 423.9L527.7 421.8L528.2 419.3L528.7 416.5L529.2 413.3L529.7 409.9L530.2 406.2L530.7 402.5L531.2 398.6L531.7 394.8L532.2 391.1L532.7 387.5L533.2 384.1L533.7 381.0L534.2 378.3L534.7 376.0L535.2 374.1L535.7 372.6L536.2 371.5L536.7 370.7L537.2 370.3L537.7 370.1L538.2 370.3L538.7 370.7L539.2 371.4L539.7 372.4L540.2 373.5L540.7 374.9L541.2 376.6L541.7 378.4L542.2 380.4L542.7 382.6L543.2 384.9L543.7 387.3L544.2 389.6L544.7 391.9L545.2 394.1L545.7 396.1L546.2 397.8L546.7 399.3L547.2 400.5L547.7 401.4L548.2 402.2L548.7 402.8L549.2 403.3L549.7 403.7L550.2 404.1L550.7 404.4L551.2 404.7L551.7 405.1L552.2 405.5L552.7 405.9L553.2 406.4L553.7 406.9L554.2 407.6L554.7 408.3L555.2 409.1L555.7 410.0L556.2 411.0L556.7 412.0L557.2 413.0L557.7 414.0L558.2 415.0L558.7 416.0L559.2 416.9L559.7 417.8L560.2 418.5L560.7 419.2L561.2 419.7L561.7 420.1L562.2 420.3L562.7 420.3L563.2 420.0L563.7 419.6L564.2 419.0L564.7 418.1L565.2 417.1L565.7 416.0L566.2 414.7L566.7 413.3L567.2 411.9L567.7 410.3L568.2 408.7L568.7 407.0L569.2 405.3L569.5 404.3"/></defs>
<use href="#c01" fill="none" stroke="#0a8a0a" stroke-width="2.0" stroke-dasharray="5.4 2.0 1.4 2.0" stroke-dashoffset="4.5"/>
<use href="#c01" fill="none" stroke="#ff0000" stroke-width="2.0" stroke-dasharray="5.7 2.0 1.4 2.0" stroke-dashoffset="0"/>
<rect x="403.6" y="367.0" width="173.9" height="71.0" fill="none" stroke="#444" stroke-width="1.2"/>
<line x1="398.8" y1="370.2" x2="403.6" y2="370.2" stroke="#444" stroke-width="1.1"/>
<text x="393.4" y="373.8" font-family="Liberation Sans, sans-serif" font-size="10.20" font-weight="normal" font-style="normal" text-anchor="end" fill="#2a2a2a">0.63</text>
<line x1="398.8" y1="434.8" x2="403.6" y2="434.8" stroke="#444" stroke-width="1.1"/>
<text x="393.4" y="438.3" font-family="Liberation Sans, sans-serif" font-size="10.20" font-weight="normal" font-style="normal" text-anchor="end" fill="#2a2a2a">-0.29</text>
<line x1="411.5" y1="438.0" x2="411.5" y2="442.5" stroke="#444" stroke-width="1.1"/>
<text x="410.9" y="454.7" font-family="Liberation Sans, sans-serif" font-size="10.20" font-weight="normal" font-style="normal" text-anchor="middle" fill="#2a2a2a">-0.5</text>
<line x1="490.5" y1="438.0" x2="490.5" y2="442.5" stroke="#444" stroke-width="1.1"/>
<text x="490.5" y="454.7" font-family="Liberation Sans, sans-serif" font-size="10.20" font-weight="normal" font-style="normal" text-anchor="middle" fill="#2a2a2a">0</text>
<line x1="569.5" y1="438.0" x2="569.5" y2="442.5" stroke="#444" stroke-width="1.1"/>
<text x="569.5" y="454.7" font-family="Liberation Sans, sans-serif" font-size="10.20" font-weight="normal" font-style="normal" text-anchor="middle" fill="#2a2a2a">0.5</text>
<text x="490.2" y="467.2" font-family="Liberation Serif, serif" font-size="11.60" font-weight="normal" font-style="italic" text-anchor="middle" fill="#2a2a2a">a</text>
<text x="487.5" y="363.2" font-family="Liberation Sans, sans-serif" font-size="10.90" font-weight="normal" font-style="normal" text-anchor="middle" fill="#2a2a2a" textLength="43.7" lengthAdjust="spacingAndGlyphs">Real part</text>
<defs><path id="c10" d="M135.0 544.4L135.5 546.3L136.0 548.2L136.5 549.9L137.0 551.5L137.5 552.8L138.0 553.7L138.5 554.3L139.0 554.5L139.5 554.2L140.0 553.6L140.5 552.7L141.0 551.5L141.5 550.0L142.0 548.5L142.5 546.7L143.0 545.0L143.5 543.2L144.0 541.4L144.5 539.8L145.0 538.2L145.5 536.8L146.0 535.5L146.5 534.3L147.0 533.3L147.5 532.4L148.0 531.8L148.5 531.3L149.0 531.0L149.5 530.9L150.0 530.9L150.5 531.1L151.0 531.4L151.5 531.8L152.0 532.3L152.5 532.9L153.0 533.5L153.5 534.0L154.0 534.6L154.5 535.1L155.0 535.5L155.5 535.7L156.0 535.9L156.5 535.9L157.0 535.7L157.5 535.3L158.0 534.8L158.5 534.1L159.0 533.3L159.5 532.3L160.0 531.2L160.5 529.9L161.0 528.6L161.5 527.1L162.0 525.5L162.5 523.9L163.0 522.3L163.5 520.8L164.0 519.3L164.5 518.0L165.0 516.8L165.5 515.9L166.0 515.2L166.5 514.8L167.0 514.8L167.5 515.1L168.0 515.8L168.5 516.9L169.0 518.2L169.5 519.7L170.0 521.4L170.5 523.3L171.0 525.2L171.5 527.2L172.0 529.2L172.5 531.2L173.0 533.1L173.5 535.0L174.0 536.9L174.5 538.7L175.0 540.4L175.5 542.1L176.0 543.7L176.5 545.1L177.0 546.4L177.5 547.5L178.0 548.3L178.5 548.9L179.0 549.1L179.5 548.9L180.0 548.3L180.5 547.3L181.0 546.1L181.5 544.6L182.0 543.0L182.5 541.1L183.0 539.2L183.5 537.2L184.0 535.2L184.5 533.3L185.0 531.4L185.5 529.6L186.0 528.1L186.5 526.7L187.0 525.6L187.5 524.7L188.0 524.2L188.5 523.8L189.0 523.6L189.5 523.7L190.0 523.9L190.5 524.3L191.0 524.8L191.5 525.5L192.0 526.3L192.5 527.2L193.0 528.2L193.5 529.4L194.0 530.6L194.5 531.9L195.0 533.3L195.5 534.6L196.0 536.0L196.5 537.2L197.0 538.3L197.5 539.2L198.0 539.9L198.5 540.4L199.0 540.5L199.5 540.3L200.0 539.8L200.5 539.0L201.0 537.9L201.5 536.6L202.0 535.0L202.5 533.3L203.0 531.4L203.5 529.4L204.0 527.2L204.5 525.0L205.0 522.6L205.5 520.2L206.0 517.7L206.5 515.2L207.0 512.7L207.5 510.2L208.0 507.7L208.5 505.2L209.0 502.8L209.5 500.6L210.0 498.5L210.5 496.5L211.0 494.8L211.5 493.3L212.0 492.1L212.5 491.1L213.0 490.4L213.5 489.8L214.0 489.5L214.5 489.4L215.0 489.5L215.5 489.8L216.0 490.3L216.5 491.0L217.0 491.9L217.5 492.9L218.0 494.1L218.5 495.5L219.0 497.1L219.5 498.9L220.0 500.7L220.5 502.7L221.0 504.8L221.5 506.9L222.0 509.0L222.5 511.1L223.0 513.1L223.5 515.0L224.0 516.8L224.5 518.5L225.0 520.1L225.5 521.6L226.0 523.0L226.5 524.2L227.0 525.4L227.5 526.4L228.0 527.2L228.5 527.8L229.0 528.3L229.5 528.6L230.0 528.6L230.5 528.4L231.0 528.0L231.5 527.4L232.0 526.6L232.5 525.7L233.0 524.7L233.5 523.6L234.0 522.4L234.5 521.3L235.0 520.1L235.5 519.0L236.0 517.9L236.5 516.8L237.0 515.8L237.5 514.9L238.0 514.1L238.5 513.4L239.0 512.7L239.5 512.2L240.0 511.9L240.5 511.6L241.0 511.6L241.5 511.7L242.0 511.9L242.5 512.3L243.0 512.9L243.5 513.6L244.0 514.4L244.5 515.3L245.0 516.4L245.5 517.5L246.0 518.7L246.5 519.9L247.0 521.1L247.5 522.3L248.0 523.4L248.5 524.4L249.0 525.1L249.5 525.7L250.0 526.0L250.5 526.0L251.0 525.7L251.5 525.1L252.0 524.4L252.5 523.4L253.0 522.2L253.5 521.0L254.0 519.6L254.5 518.1L255.0 516.6L255.5 515.0L256.0 513.5L256.5 512.0L257.0 510.6L257.5 509.3L258.0 508.0L258.5 507.0L259.0 506.1L259.5 505.4L260.0 504.9L260.5 504.7L261.0 504.8L261.5 505.2L262.0 505.9L262.5 506.9L263.0 508.3L263.5 509.9L264.0 511.8L264.5 513.9L265.0 516.2L265.5 518.6L266.0 521.1L266.5 523.7L267.0 526.3L267.5 529.0L268.0 531.6L268.5 534.2L269.0 536.7L269.5 539.1L270.0 541.3L270.5 543.4L271.0 545.2L271.5 546.8L272.0 548.1L272.5 549.1L273.0 549.6L273.5 549.8L274.0 549.6L274.5 548.9L275.0 547.9L275.5 546.6L276.0 544.9L276.5 542.9L277.0 540.6L277.5 537.9L278.0 535.1L278.5 531.9L279.0 528.6L279.5 525.1L280.0 521.7L280.5 518.4L281.0 515.4L281.5 512.7L282.0 510.4L282.5 508.7L283.0 507.3L283.5 506.3L284.0 505.7L284.5 505.4L285.0 505.4L285.5 505.6L286.0 506.2L286.5 507.1L287.0 508.3L287.5 510.0L288.0 512.0L288.5 514.5L289.0 517.4L289.5 520.7L290.0 524.3L290.5 527.9L291.0 531.4L291.5 534.6L292.0 537.5L292.5 540.0L293.0 542.4L293.3 543.8"/></defs>
<use href="#c10" fill="none" stroke="#0a8a0a" stroke-width="2.0" stroke-dasharray="5.4 2.0 1.4 2.0" stroke-dashoffset="4.5"/>
<use href="#c10" fill="none" stroke="#ff0000" stroke-width="2.0" stroke-dasharray="5.7 2.0 1.4 2.0" stroke-dashoffset="0"/>
<rect x="127.5" y="487.0" width="173.6" height="70.9" fill="none" stroke="#444" stroke-width="1.2"/>
<line x1="122.7" y1="490.2" x2="127.5" y2="490.2" stroke="#444" stroke-width="1.1"/>
<text x="117.3" y="493.8" font-family="Liberation Sans, sans-serif" font-size="10.20" font-weight="normal" font-style="normal" text-anchor="end" fill="#2a2a2a">0.57</text>
<line x1="122.7" y1="554.7" x2="127.5" y2="554.7" stroke="#444" stroke-width="1.1"/>
<text x="117.3" y="558.2" font-family="Liberation Sans, sans-serif" font-size="10.20" font-weight="normal" font-style="normal" text-anchor="end" fill="#2a2a2a">-0.47</text>
<line x1="135.4" y1="557.9" x2="135.4" y2="562.4" stroke="#444" stroke-width="1.1"/>
<text x="134.8" y="574.6" font-family="Liberation Sans, sans-serif" font-size="10.20" font-weight="normal" font-style="normal" text-anchor="middle" fill="#2a2a2a">-0.5</text>
<line x1="214.3" y1="557.9" x2="214.3" y2="562.4" stroke="#444" stroke-width="1.1"/>
<text x="214.3" y="574.6" font-family="Liberation Sans, sans-serif" font-size="10.20" font-weight="normal" font-style="normal" text-anchor="middle" fill="#2a2a2a">0</text>
<line x1="293.2" y1="557.9" x2="293.2" y2="562.4" stroke="#444" stroke-width="1.1"/>
<text x="293.2" y="574.6" font-family="Liberation Sans, sans-serif" font-size="10.20" font-weight="normal" font-style="normal" text-anchor="middle" fill="#2a2a2a">0.5</text>
<text x="214.0" y="587.1" font-family="Liberation Serif, serif" font-size="11.60" font-weight="normal" font-style="italic" text-anchor="middle" fill="#2a2a2a">a</text>
<text x="213.1" y="483.2" font-family="Liberation Sans, sans-serif" font-size="10.90" font-weight="normal" font-style="normal" text-anchor="middle" fill="#2a2a2a" textLength="72.6" lengthAdjust="spacingAndGlyphs">Imaginary part</text>
<defs><path id="c11" d="M411.5 527.3L412.0 526.0L412.5 524.8L413.0 523.4L413.5 522.0L414.0 520.4L414.5 518.6L415.0 516.7L415.5 514.6L416.0 512.3L416.5 509.9L417.0 507.5L417.5 505.1L418.0 502.7L418.5 500.4L419.0 498.3L419.5 496.3L420.0 494.6L420.5 493.2L421.0 492.1L421.5 491.4L422.0 491.1L422.5 491.3L423.0 491.9L423.5 493.0L424.0 494.4L424.5 496.1L425.0 497.9L425.5 499.8L426.0 501.7L426.5 503.6L427.0 505.3L427.5 507.0L428.0 508.5L428.5 509.8L429.0 511.0L429.5 512.0L430.0 512.7L430.5 513.2L431.0 513.5L431.5 513.4L432.0 513.1L432.5 512.5L433.0 511.7L433.5 510.7L434.0 509.6L434.5 508.2L435.0 506.8L435.5 505.3L436.0 503.7L436.5 502.0L437.0 500.4L437.5 498.9L438.0 497.4L438.5 496.1L439.0 495.1L439.5 494.3L440.0 493.8L440.5 493.6L441.0 493.8L441.5 494.4L442.0 495.4L442.5 496.7L443.0 498.3L443.5 500.2L444.0 502.4L444.5 504.8L445.0 507.5L445.5 510.4L446.0 513.4L446.5 516.5L447.0 519.6L447.5 522.8L448.0 525.8L448.5 528.8L449.0 531.6L449.5 534.2L450.0 536.5L450.5 538.5L451.0 540.2L451.5 541.5L452.0 542.4L452.5 542.8L453.0 542.7L453.5 542.1L454.0 541.1L454.5 539.8L455.0 538.1L455.5 536.1L456.0 533.8L456.5 531.4L457.0 528.8L457.5 526.0L458.0 523.2L458.5 520.5L459.0 517.8L459.5 515.3L460.0 513.0L460.5 511.1L461.0 509.5L461.5 508.2L462.0 507.3L462.5 506.6L463.0 506.3L463.5 506.3L464.0 506.6L464.5 507.1L465.0 507.8L465.5 508.8L466.0 509.8L466.5 511.0L467.0 512.2L467.5 513.5L468.0 514.8L468.5 516.1L469.0 517.2L469.5 518.3L470.0 519.3L470.5 520.1L471.0 520.8L471.5 521.2L472.0 521.4L472.5 521.3L473.0 521.0L473.5 520.5L474.0 519.8L474.5 519.0L475.0 518.0L475.5 517.0L476.0 516.0L476.5 515.0L477.0 514.0L477.5 513.1L478.0 512.2L478.5 511.5L479.0 510.8L479.5 510.3L480.0 509.9L480.5 509.7L481.0 509.6L481.5 509.7L482.0 510.0L482.5 510.4L483.0 511.0L483.5 511.7L484.0 512.5L484.5 513.3L485.0 514.2L485.5 515.1L486.0 516.1L486.5 517.0L487.0 517.8L487.5 518.6L488.0 519.3L488.5 519.9L489.0 520.4L489.5 520.6L490.0 520.7L490.5 520.5L491.0 520.0L491.5 519.1L492.0 518.0L492.5 516.6L493.0 515.1L493.5 513.4L494.0 511.6L494.5 509.8L495.0 507.9L495.5 506.2L496.0 504.5L496.5 502.8L497.0 501.3L497.5 500.0L498.0 498.8L498.5 497.8L499.0 497.0L499.5 496.5L500.0 496.2L500.5 496.2L501.0 496.5L501.5 497.1L502.0 497.9L502.5 499.0L503.0 500.4L503.5 502.0L504.0 503.9L504.5 506.0L505.0 508.3L505.5 510.7L506.0 513.0L506.5 515.3L507.0 517.4L507.5 519.3L508.0 521.0L508.5 522.4L509.0 523.5L509.5 524.3L510.0 524.8L510.5 524.9L511.0 524.6L511.5 524.0L512.0 523.0L512.5 521.7L513.0 520.1L513.5 518.4L514.0 516.6L514.5 514.7L515.0 512.9L515.5 511.2L516.0 509.6L516.5 508.2L517.0 507.0L517.5 506.0L518.0 505.2L518.5 504.7L519.0 504.4L519.5 504.4L520.0 504.8L520.5 505.4L521.0 506.4L521.5 507.6L522.0 509.2L522.5 511.1L523.0 513.3L523.5 515.8L524.0 518.7L524.5 521.8L525.0 525.0L525.5 528.4L526.0 531.9L526.5 535.3L527.0 538.5L527.5 541.7L528.0 544.5L528.5 547.2L529.0 549.4L529.5 551.4L530.0 552.8L530.5 553.8L531.0 554.3L531.5 554.2L532.0 553.6L532.5 552.4L533.0 550.8L533.5 548.9L534.0 546.5L534.5 543.9L535.0 541.0L535.5 537.8L536.0 534.6L536.5 531.1L537.0 527.6L537.5 523.9L538.0 520.2L538.5 516.5L539.0 512.8L539.5 509.1L540.0 505.5L540.5 502.1L541.0 499.1L541.5 496.5L542.0 494.4L542.5 492.7L543.0 491.5L543.5 490.7L544.0 490.1L544.5 489.9L545.0 489.9L545.5 490.0L546.0 490.4L546.5 490.8L547.0 491.4L547.5 492.0L548.0 492.6L548.5 493.3L549.0 493.9L549.5 494.5L550.0 495.0L550.5 495.4L551.0 495.7L551.5 496.0L552.0 496.2L552.5 496.3L553.0 496.3L553.5 496.4L554.0 496.4L554.5 496.4L555.0 496.5L555.5 496.5L556.0 496.6L556.5 496.8L557.0 497.1L557.5 497.5L558.0 498.0L558.5 498.8L559.0 499.7L559.5 500.9L560.0 502.3L560.5 503.9L561.0 505.6L561.5 507.4L562.0 509.3L562.5 511.1L563.0 512.8L563.5 514.5L564.0 516.0L564.5 517.4L565.0 518.6L565.5 519.8L566.0 520.9L566.5 521.9L567.0 522.9L567.5 523.8L568.0 524.6L568.5 525.4L569.0 526.2L569.5 527.0"/></defs>
<use href="#c11" fill="none" stroke="#0a8a0a" stroke-width="2.0" stroke-dasharray="5.4 2.0 1.4 2.0" stroke-dashoffset="4.5"/>
<use href="#c11" fill="none" stroke="#ff0000" stroke-width="2.0" stroke-dasharray="5.7 2.0 1.4 2.0" stroke-dashoffset="0"/>
<rect x="403.6" y="487.0" width="173.9" height="70.9" fill="none" stroke="#444" stroke-width="1.2"/>
<line x1="398.8" y1="490.2" x2="403.6" y2="490.2" stroke="#444" stroke-width="1.1"/>
<text x="393.4" y="493.8" font-family="Liberation Sans, sans-serif" font-size="10.20" font-weight="normal" font-style="normal" text-anchor="end" fill="#2a2a2a">0.26</text>
<line x1="398.8" y1="554.7" x2="403.6" y2="554.7" stroke="#444" stroke-width="1.1"/>
<text x="393.4" y="558.2" font-family="Liberation Sans, sans-serif" font-size="10.20" font-weight="normal" font-style="normal" text-anchor="end" fill="#2a2a2a">-0.54</text>
<line x1="411.5" y1="557.9" x2="411.5" y2="562.4" stroke="#444" stroke-width="1.1"/>
<text x="410.9" y="574.6" font-family="Liberation Sans, sans-serif" font-size="10.20" font-weight="normal" font-style="normal" text-anchor="middle" fill="#2a2a2a">-0.5</text>
<line x1="490.5" y1="557.9" x2="490.5" y2="562.4" stroke="#444" stroke-width="1.1"/>
<text x="490.5" y="574.6" font-family="Liberation Sans, sans-serif" font-size="10.20" font-weight="normal" font-style="normal" text-anchor="middle" fill="#2a2a2a">0</text>
<line x1="569.5" y1="557.9" x2="569.5" y2="562.4" stroke="#444" stroke-width="1.1"/>
<text x="569.5" y="574.6" font-family="Liberation Sans, sans-serif" font-size="10.20" font-weight="normal" font-style="normal" text-anchor="middle" fill="#2a2a2a">0.5</text>
<text x="490.2" y="587.1" font-family="Liberation Serif, serif" font-size="11.60" font-weight="normal" font-style="italic" text-anchor="middle" fill="#2a2a2a">a</text>
<text x="489.3" y="483.2" font-family="Liberation Sans, sans-serif" font-size="10.90" font-weight="normal" font-style="normal" text-anchor="middle" fill="#2a2a2a" textLength="72.6" lengthAdjust="spacingAndGlyphs">Imaginary part</text>
<defs><path id="c20" d="M135.5 641.8L136.0 642.3L136.5 642.9L137.0 643.6L137.5 644.4L138.0 645.5L138.5 646.8L139.0 648.4L139.5 650.3L140.0 652.3L140.5 654.4L141.0 656.7L141.5 659.1L142.0 661.5L142.5 663.9L143.0 666.3L143.5 668.6L144.0 670.8L144.5 672.8L145.0 674.7L145.5 676.3L146.0 677.7L146.5 678.9L147.0 679.9L147.5 680.6L148.0 681.1L148.5 681.4L149.0 681.4L149.5 681.1L150.0 680.7L150.5 680.1L151.0 679.3L151.5 678.5L152.0 677.5L152.5 676.5L153.0 675.5L153.5 674.5L154.0 673.5L154.5 672.6L155.0 671.6L155.5 670.7L156.0 669.7L156.5 668.8L157.0 667.8L157.5 666.8L158.0 665.8L158.5 664.7L159.0 663.6L159.5 662.4L160.0 661.2L160.5 659.9L161.0 658.6L161.5 657.2L162.0 655.9L162.5 654.5L163.0 653.1L163.5 651.7L164.0 650.4L164.5 649.1L165.0 647.8L165.5 646.7L166.0 645.6L166.5 644.6L167.0 643.6L167.5 642.9L168.0 642.2L168.5 641.7L169.0 641.3L169.5 641.0L170.0 641.0L170.5 641.1L171.0 641.5L171.5 642.0L172.0 642.9L172.5 643.9L173.0 645.3L173.5 646.9L174.0 648.9L174.5 651.1L175.0 653.6L175.5 656.3L176.0 659.1L176.5 662.0L177.0 665.0L177.5 668.0L178.0 670.9L178.5 673.8L179.0 676.6L179.5 679.3L180.0 681.8L180.5 684.2L181.0 686.4L181.5 688.3L182.0 689.9L182.5 691.1L183.0 692.0L183.5 692.4L184.0 692.4L184.5 691.8L185.0 690.8L185.5 689.3L186.0 687.2L186.5 684.6L187.0 681.5L187.5 677.8L188.0 673.8L188.5 669.6L189.0 665.3L189.5 661.1L190.0 657.2L190.5 653.7L191.0 650.6L191.5 648.0L192.0 645.7L192.5 643.8L193.0 642.3L193.5 641.2L194.0 640.4L194.5 640.0L195.0 639.8L195.5 640.1L196.0 640.7L196.5 641.7L197.0 643.1L197.5 645.0L198.0 647.3L198.5 650.1L199.0 653.3L199.5 656.8L200.0 660.4L200.5 664.2L201.0 668.1L201.5 671.8L202.0 675.5L202.5 678.9L203.0 682.1L203.5 685.0L204.0 687.5L204.5 689.6L205.0 691.2L205.5 692.2L206.0 692.7L206.5 692.6L207.0 691.9L207.5 690.7L208.0 689.0L208.5 687.0L209.0 684.6L209.5 681.8L210.0 678.9L210.5 675.7L211.0 672.2L211.5 668.5L212.0 664.4L212.5 660.0L213.0 655.2L213.5 650.4L214.0 645.7L214.5 641.5L215.0 638.0L215.5 635.2L216.0 633.1L216.5 631.6L217.0 630.6L217.5 629.9L218.0 629.5L218.5 629.2L219.0 629.2L219.5 629.4L220.0 629.9L220.5 630.6L221.0 631.7L221.5 633.1L222.0 634.9L222.5 637.0L223.0 639.4L223.5 641.9L224.0 644.6L224.5 647.3L225.0 649.9L225.5 652.5L226.0 654.9L226.5 657.1L227.0 659.2L227.5 661.0L228.0 662.6L228.5 663.9L229.0 665.0L229.5 665.9L230.0 666.6L230.5 667.1L231.0 667.4L231.5 667.6L232.0 667.6L232.5 667.5L233.0 667.4L233.5 667.1L234.0 666.8L234.5 666.4L235.0 666.0L235.5 665.5L236.0 665.0L236.5 664.4L237.0 663.8L237.5 663.3L238.0 662.7L238.5 662.1L239.0 661.6L239.5 661.1L240.0 660.6L240.5 660.2L241.0 659.8L241.5 659.5L242.0 659.1L242.5 658.8L243.0 658.6L243.5 658.4L244.0 658.2L244.5 658.0L245.0 657.9L245.5 657.8L246.0 657.8L246.5 657.7L247.0 657.8L247.5 657.8L248.0 657.9L248.5 658.0L249.0 658.2L249.5 658.5L250.0 658.8L250.5 659.1L251.0 659.6L251.5 660.1L252.0 660.7L252.5 661.4L253.0 662.3L253.5 663.2L254.0 664.2L254.5 665.4L255.0 666.6L255.5 667.8L256.0 669.0L256.5 670.3L257.0 671.5L257.5 672.7L258.0 673.7L258.5 674.7L259.0 675.6L259.5 676.4L260.0 677.0L260.5 677.5L261.0 677.7L261.5 677.8L262.0 677.7L262.5 677.4L263.0 676.9L263.5 676.2L264.0 675.3L264.5 674.3L265.0 673.1L265.5 671.6L266.0 670.1L266.5 668.3L267.0 666.4L267.5 664.4L268.0 662.3L268.5 660.2L269.0 658.2L269.5 656.3L270.0 654.5L270.5 653.0L271.0 651.6L271.5 650.5L272.0 649.6L272.5 648.9L273.0 648.5L273.5 648.3L274.0 648.4L274.5 648.6L275.0 649.1L275.5 649.8L276.0 650.5L276.5 651.4L277.0 652.4L277.5 653.5L278.0 654.6L278.5 655.6L279.0 656.7L279.5 657.7L280.0 658.6L280.5 659.4L281.0 660.0L281.5 660.5L282.0 660.8L282.5 660.9L283.0 660.6L283.5 660.1L284.0 659.4L284.5 658.5L285.0 657.4L285.5 656.2L286.0 655.0L286.5 653.7L287.0 652.4L287.5 651.2L288.0 650.1L288.5 649.0L289.0 648.1L289.5 647.2L290.0 646.3L290.5 645.5L291.0 644.8L291.5 644.1L292.0 643.5L292.5 642.8L293.0 642.2L293.3 641.8"/></defs>
<use href="#c20" fill="none" stroke="#0a8a0a" stroke-width="2.0" stroke-dasharray="5.4 2.0 1.4 2.0" stroke-dashoffset="4.5"/>
<use href="#c20" fill="none" stroke="#ff0000" stroke-width="2.0" stroke-dasharray="5.7 2.0 1.4 2.0" stroke-dashoffset="0"/>
<rect x="127.5" y="625.5" width="173.6" height="70.9" fill="none" stroke="#444" stroke-width="1.2"/>
<line x1="122.7" y1="628.7" x2="127.5" y2="628.7" stroke="#444" stroke-width="1.1"/>
<text x="117.3" y="632.3" font-family="Liberation Sans, sans-serif" font-size="10.20" font-weight="normal" font-style="normal" text-anchor="end" fill="#2a2a2a">0.46</text>
<line x1="122.7" y1="693.2" x2="127.5" y2="693.2" stroke="#444" stroke-width="1.1"/>
<text x="117.3" y="696.7" font-family="Liberation Sans, sans-serif" font-size="10.20" font-weight="normal" font-style="normal" text-anchor="end" fill="#2a2a2a">-0.46</text>
<line x1="135.4" y1="696.4" x2="135.4" y2="700.9" stroke="#444" stroke-width="1.1"/>
<text x="134.8" y="713.1" font-family="Liberation Sans, sans-serif" font-size="10.20" font-weight="normal" font-style="normal" text-anchor="middle" fill="#2a2a2a">-0.5</text>
<line x1="214.3" y1="696.4" x2="214.3" y2="700.9" stroke="#444" stroke-width="1.1"/>
<text x="214.3" y="713.1" font-family="Liberation Sans, sans-serif" font-size="10.20" font-weight="normal" font-style="normal" text-anchor="middle" fill="#2a2a2a">0</text>
<line x1="293.2" y1="696.4" x2="293.2" y2="700.9" stroke="#444" stroke-width="1.1"/>
<text x="293.2" y="713.1" font-family="Liberation Sans, sans-serif" font-size="10.20" font-weight="normal" font-style="normal" text-anchor="middle" fill="#2a2a2a">0.5</text>
<text x="214.0" y="725.6" font-family="Liberation Serif, serif" font-size="11.60" font-weight="normal" font-style="italic" text-anchor="middle" fill="#2a2a2a">a</text>
<text x="211.3" y="621.7" font-family="Liberation Sans, sans-serif" font-size="10.90" font-weight="normal" font-style="normal" text-anchor="middle" fill="#2a2a2a" textLength="43.7" lengthAdjust="spacingAndGlyphs">Real part</text>
<defs><path id="c21" d="M411.2 636.1L411.7 634.8L412.2 633.7L412.7 632.6L413.2 631.8L413.7 631.3L414.2 631.2L414.7 631.5L415.2 632.2L415.7 633.4L416.2 635.2L416.7 637.5L417.2 640.3L417.7 643.5L418.2 646.9L418.7 650.5L419.2 654.1L419.7 657.7L420.2 661.3L420.7 664.8L421.2 668.3L421.7 671.6L422.2 674.7L422.7 677.6L423.2 680.3L423.7 682.8L424.2 684.9L424.7 686.8L425.2 688.4L425.7 689.7L426.2 690.6L426.7 691.2L427.2 691.4L427.7 691.2L428.2 690.7L428.7 690.0L429.2 689.1L429.7 688.1L430.2 686.9L430.7 685.8L431.2 684.6L431.7 683.5L432.2 682.3L432.7 681.2L433.2 680.2L433.7 679.2L434.2 678.2L434.7 677.4L435.2 676.6L435.7 675.9L436.2 675.4L436.7 675.0L437.2 674.8L437.7 674.8L438.2 675.0L438.7 675.4L439.2 675.8L439.7 676.5L440.2 677.2L440.7 678.0L441.2 678.9L441.7 679.9L442.2 680.9L442.7 682.0L443.2 683.1L443.7 684.1L444.2 685.2L444.7 686.2L445.2 687.2L445.7 688.1L446.2 689.0L446.7 689.7L447.2 690.4L447.7 690.9L448.2 691.4L448.7 691.8L449.2 692.2L449.7 692.4L450.2 692.7L450.7 692.9L451.2 693.1L451.7 693.2L452.2 693.4L452.7 693.5L453.2 693.5L453.7 693.5L454.2 693.2L454.7 692.7L455.2 691.9L455.7 690.9L456.2 689.4L456.7 687.6L457.2 685.3L457.7 682.5L458.2 679.5L458.7 676.2L459.2 672.9L459.7 669.6L460.2 666.3L460.7 663.0L461.2 659.8L461.7 656.5L462.2 653.1L462.7 649.7L463.2 646.3L463.7 643.0L464.2 640.0L464.7 637.3L465.2 635.0L465.7 633.1L466.2 631.7L466.7 630.6L467.2 629.9L467.7 629.5L468.2 629.4L468.7 629.5L469.2 630.0L469.7 630.7L470.2 631.8L470.7 633.2L471.2 635.1L471.7 637.4L472.2 640.0L472.7 643.1L473.2 646.5L473.7 650.2L474.2 654.1L474.7 658.2L475.2 662.4L475.7 666.6L476.2 670.6L476.7 674.3L477.2 677.7L477.7 680.6L478.2 683.2L478.7 685.3L479.2 687.0L479.7 688.3L480.2 689.1L480.7 689.4L481.2 689.2L481.7 688.5L482.2 687.3L482.7 685.6L483.2 683.4L483.7 680.7L484.2 677.5L484.7 674.0L485.2 670.2L485.7 666.3L486.2 662.6L486.7 659.0L487.2 655.9L487.7 653.3L488.2 651.1L488.7 649.2L489.2 647.7L489.7 646.5L490.2 645.5L490.7 644.7L491.2 644.2L491.7 644.0L492.2 644.2L492.7 644.7L493.2 645.7L493.7 647.1L494.2 649.0L494.7 651.4L495.2 654.3L495.7 657.6L496.2 661.3L496.7 665.0L497.2 668.7L497.7 672.3L498.2 675.5L498.7 678.5L499.2 681.2L499.7 683.7L500.2 685.8L500.7 687.7L501.2 689.2L501.7 690.3L502.2 690.8L502.7 690.8L503.2 690.2L503.7 689.2L504.2 687.7L504.7 685.9L505.2 683.9L505.7 681.8L506.2 679.6L506.7 677.5L507.2 675.5L507.7 673.7L508.2 672.0L508.7 670.5L509.2 669.0L509.7 667.7L510.2 666.5L510.7 665.5L511.2 664.6L511.7 663.9L512.2 663.4L512.7 663.3L513.2 663.5L513.7 664.0L514.2 664.7L514.7 665.7L515.2 666.9L515.7 668.2L516.2 669.7L516.7 671.2L517.2 672.8L517.7 674.3L518.2 675.8L518.7 677.0L519.2 678.0L519.7 678.7L520.2 679.0L520.7 678.7L521.2 678.0L521.7 676.7L522.2 674.9L522.7 672.8L523.2 670.4L523.7 667.9L524.2 665.2L524.7 662.5L525.2 659.9L525.7 657.4L526.2 655.1L526.7 653.0L527.2 651.0L527.7 649.3L528.2 647.8L528.7 646.6L529.2 645.6L529.7 644.9L530.2 644.5L530.7 644.4L531.2 644.6L531.7 645.0L532.2 645.8L532.7 646.8L533.2 648.0L533.7 649.5L534.2 651.1L534.7 652.9L535.2 654.9L535.7 656.9L536.2 659.0L536.7 661.2L537.2 663.4L537.7 665.6L538.2 667.9L538.7 670.0L539.2 672.2L539.7 674.2L540.2 675.9L540.7 677.4L541.2 678.4L541.7 678.8L542.2 678.6L542.7 677.7L543.2 676.3L543.7 674.4L544.2 672.2L544.7 669.6L545.2 666.9L545.7 664.0L546.2 661.1L546.7 658.3L547.2 655.6L547.7 653.1L548.2 650.8L548.7 648.8L549.2 647.2L549.7 645.9L550.2 645.0L550.7 644.5L551.2 644.3L551.7 644.3L552.2 644.5L552.7 644.9L553.2 645.5L553.7 646.3L554.2 647.2L554.7 648.4L555.2 649.8L555.7 651.4L556.2 653.3L556.7 655.3L557.2 657.4L557.7 659.5L558.2 661.5L558.7 663.3L559.2 664.9L559.7 666.1L560.2 667.0L560.7 667.5L561.2 667.7L561.7 667.5L562.2 667.0L562.7 666.1L563.2 664.9L563.7 663.4L564.2 661.7L564.7 659.8L565.2 657.8L565.7 655.7L566.2 653.5L566.7 651.2L567.2 648.8L567.7 646.4L568.2 643.9L568.7 641.4L569.2 638.9L569.5 637.4"/></defs>
<use href="#c21" fill="none" stroke="#0a8a0a" stroke-width="2.0" stroke-dasharray="5.4 2.0 1.4 2.0" stroke-dashoffset="4.5"/>
<use href="#c21" fill="none" stroke="#ff0000" stroke-width="2.0" stroke-dasharray="5.7 2.0 1.4 2.0" stroke-dashoffset="0"/>
<rect x="403.6" y="625.5" width="173.9" height="70.9" fill="none" stroke="#444" stroke-width="1.2"/>
<line x1="398.8" y1="628.7" x2="403.6" y2="628.7" stroke="#444" stroke-width="1.1"/>
<text x="393.4" y="632.3" font-family="Liberation Sans, sans-serif" font-size="10.20" font-weight="normal" font-style="normal" text-anchor="end" fill="#2a2a2a">0.60</text>
<line x1="398.8" y1="693.2" x2="403.6" y2="693.2" stroke="#444" stroke-width="1.1"/>
<text x="393.4" y="696.7" font-family="Liberation Sans, sans-serif" font-size="10.20" font-weight="normal" font-style="normal" text-anchor="end" fill="#2a2a2a">-0.54</text>
<line x1="411.5" y1="696.4" x2="411.5" y2="700.9" stroke="#444" stroke-width="1.1"/>
<text x="410.9" y="713.1" font-family="Liberation Sans, sans-serif" font-size="10.20" font-weight="normal" font-style="normal" text-anchor="middle" fill="#2a2a2a">-0.5</text>
<line x1="490.5" y1="696.4" x2="490.5" y2="700.9" stroke="#444" stroke-width="1.1"/>
<text x="490.5" y="713.1" font-family="Liberation Sans, sans-serif" font-size="10.20" font-weight="normal" font-style="normal" text-anchor="middle" fill="#2a2a2a">0</text>
<line x1="569.5" y1="696.4" x2="569.5" y2="700.9" stroke="#444" stroke-width="1.1"/>
<text x="569.5" y="713.1" font-family="Liberation Sans, sans-serif" font-size="10.20" font-weight="normal" font-style="normal" text-anchor="middle" fill="#2a2a2a">0.5</text>
<text x="490.2" y="725.6" font-family="Liberation Serif, serif" font-size="11.60" font-weight="normal" font-style="italic" text-anchor="middle" fill="#2a2a2a">a</text>
<text x="487.5" y="621.7" font-family="Liberation Sans, sans-serif" font-size="10.90" font-weight="normal" font-style="normal" text-anchor="middle" fill="#2a2a2a" textLength="43.7" lengthAdjust="spacingAndGlyphs">Real part</text>
<defs><path id="c30" d="M135.0 769.6L135.5 767.5L136.0 765.4L136.5 763.4L137.0 761.5L137.5 759.7L138.0 758.0L138.5 756.5L139.0 755.2L139.5 754.1L140.0 753.1L140.5 752.4L141.0 751.9L141.5 751.6L142.0 751.6L142.5 751.8L143.0 752.2L143.5 752.9L144.0 753.7L144.5 754.8L145.0 756.1L145.5 757.6L146.0 759.3L146.5 761.2L147.0 763.2L147.5 765.4L148.0 767.5L148.5 769.6L149.0 771.6L149.5 773.5L150.0 775.3L150.5 776.8L151.0 778.2L151.5 779.5L152.0 780.7L152.5 781.8L153.0 782.8L153.5 783.8L154.0 784.6L154.5 785.5L155.0 786.2L155.5 786.9L156.0 787.5L156.5 788.0L157.0 788.5L157.5 788.8L158.0 789.1L158.5 789.3L159.0 789.4L159.5 789.4L160.0 789.3L160.5 789.2L161.0 788.9L161.5 788.6L162.0 788.1L162.5 787.7L163.0 787.1L163.5 786.4L164.0 785.7L164.5 784.9L165.0 784.0L165.5 783.0L166.0 781.8L166.5 780.6L167.0 779.1L167.5 777.5L168.0 775.7L168.5 773.7L169.0 771.6L169.5 769.4L170.0 767.1L170.5 764.9L171.0 762.7L171.5 760.5L172.0 758.5L172.5 756.6L173.0 754.9L173.5 753.4L174.0 752.0L174.5 750.9L175.0 749.9L175.5 749.2L176.0 748.8L176.5 748.6L177.0 748.7L177.5 749.1L178.0 749.7L178.5 750.6L179.0 751.8L179.5 753.3L180.0 755.0L180.5 757.0L181.0 759.3L181.5 761.8L182.0 764.5L182.5 767.5L183.0 770.7L183.5 774.2L184.0 777.9L184.5 781.6L185.0 785.4L185.5 788.9L186.0 792.0L186.5 794.7L187.0 796.9L187.5 798.6L188.0 799.7L188.5 800.5L189.0 800.7L189.5 800.5L190.0 799.9L190.5 798.8L191.0 797.4L191.5 795.6L192.0 793.4L192.5 791.0L193.0 788.2L193.5 785.2L194.0 782.0L194.5 778.7L195.0 775.3L195.5 772.1L196.0 768.9L196.5 765.9L197.0 763.2L197.5 760.7L198.0 758.5L198.5 756.6L199.0 755.1L199.5 754.0L200.0 753.3L200.5 753.1L201.0 753.3L201.5 754.0L202.0 755.1L202.5 756.8L203.0 758.8L203.5 761.4L204.0 764.3L204.5 767.7L205.0 771.4L205.5 775.3L206.0 779.4L206.5 783.4L207.0 787.4L207.5 791.2L208.0 794.8L208.5 798.2L209.0 801.2L209.5 803.9L210.0 806.2L210.5 808.2L211.0 809.7L211.5 810.8L212.0 811.5L212.5 811.7L213.0 811.5L213.5 810.9L214.0 809.7L214.5 808.1L215.0 805.9L215.5 803.3L216.0 800.1L216.5 796.6L217.0 792.9L217.5 789.1L218.0 785.2L218.5 781.6L219.0 778.1L219.5 774.8L220.0 771.7L220.5 768.9L221.0 766.4L221.5 764.2L222.0 762.3L222.5 760.7L223.0 759.3L223.5 758.3L224.0 757.4L224.5 756.9L225.0 756.5L225.5 756.4L226.0 756.5L226.5 756.8L227.0 757.2L227.5 757.9L228.0 758.7L228.5 759.6L229.0 760.8L229.5 762.0L230.0 763.4L230.5 764.8L231.0 766.2L231.5 767.7L232.0 769.1L232.5 770.3L233.0 771.5L233.5 772.5L234.0 773.3L234.5 774.0L235.0 774.6L235.5 775.0L236.0 775.4L236.5 775.7L237.0 775.8L237.5 776.0L238.0 776.0L238.5 776.1L239.0 776.1L239.5 776.1L240.0 776.1L240.5 776.1L241.0 776.1L241.5 776.0L242.0 775.9L242.5 775.8L243.0 775.6L243.5 775.4L244.0 775.2L244.5 774.9L245.0 774.6L245.5 774.2L246.0 773.8L246.5 773.3L247.0 772.7L247.5 772.2L248.0 771.6L248.5 771.0L249.0 770.3L249.5 769.7L250.0 769.1L250.5 768.4L251.0 767.8L251.5 767.2L252.0 766.7L252.5 766.2L253.0 765.8L253.5 765.5L254.0 765.3L254.5 765.2L255.0 765.2L255.5 765.4L256.0 765.8L256.5 766.3L257.0 767.0L257.5 767.8L258.0 768.8L258.5 769.9L259.0 771.3L259.5 772.8L260.0 774.4L260.5 776.1L261.0 777.8L261.5 779.6L262.0 781.4L262.5 783.1L263.0 784.7L263.5 786.2L264.0 787.7L264.5 789.0L265.0 790.2L265.5 791.2L266.0 792.1L266.5 792.8L267.0 793.3L267.5 793.6L268.0 793.7L268.5 793.6L269.0 793.2L269.5 792.7L270.0 791.9L270.5 790.9L271.0 789.7L271.5 788.3L272.0 786.6L272.5 784.8L273.0 782.8L273.5 780.8L274.0 778.9L274.5 777.1L275.0 775.5L275.5 774.2L276.0 773.2L276.5 772.5L277.0 772.0L277.5 771.7L278.0 771.6L278.5 771.8L279.0 772.1L279.5 772.5L280.0 773.1L280.5 773.8L281.0 774.6L281.5 775.4L282.0 776.4L282.5 777.3L283.0 778.3L283.5 779.3L284.0 780.2L284.5 781.1L285.0 781.8L285.5 782.5L286.0 783.0L286.5 783.4L287.0 783.5L287.5 783.4L288.0 783.1L288.5 782.5L289.0 781.7L289.5 780.7L290.0 779.6L290.5 778.4L291.0 777.1L291.5 775.7L292.0 774.2L292.5 772.7L293.0 771.1L293.3 770.2"/></defs>
<use href="#c30" fill="none" stroke="#0a8a0a" stroke-width="2.0" stroke-dasharray="5.4 2.0 1.4 2.0" stroke-dashoffset="4.5"/>
<use href="#c30" fill="none" stroke="#ff0000" stroke-width="2.0" stroke-dasharray="5.7 2.0 1.4 2.0" stroke-dashoffset="0"/>
<rect x="127.5" y="745.0" width="173.6" height="70.9" fill="none" stroke="#444" stroke-width="1.2"/>
<line x1="122.7" y1="748.2" x2="127.5" y2="748.2" stroke="#444" stroke-width="1.1"/>
<text x="117.3" y="751.8" font-family="Liberation Sans, sans-serif" font-size="10.20" font-weight="normal" font-style="normal" text-anchor="end" fill="#2a2a2a">0.37</text>
<line x1="122.7" y1="812.7" x2="127.5" y2="812.7" stroke="#444" stroke-width="1.1"/>
<text x="117.3" y="816.2" font-family="Liberation Sans, sans-serif" font-size="10.20" font-weight="normal" font-style="normal" text-anchor="end" fill="#2a2a2a">-0.57</text>
<line x1="135.4" y1="815.9" x2="135.4" y2="820.4" stroke="#444" stroke-width="1.1"/>
<text x="134.8" y="832.6" font-family="Liberation Sans, sans-serif" font-size="10.20" font-weight="normal" font-style="normal" text-anchor="middle" fill="#2a2a2a">-0.5</text>
<line x1="214.3" y1="815.9" x2="214.3" y2="820.4" stroke="#444" stroke-width="1.1"/>
<text x="214.3" y="832.6" font-family="Liberation Sans, sans-serif" font-size="10.20" font-weight="normal" font-style="normal" text-anchor="middle" fill="#2a2a2a">0</text>
<line x1="293.2" y1="815.9" x2="293.2" y2="820.4" stroke="#444" stroke-width="1.1"/>
<text x="293.2" y="832.6" font-family="Liberation Sans, sans-serif" font-size="10.20" font-weight="normal" font-style="normal" text-anchor="middle" fill="#2a2a2a">0.5</text>
<text x="214.0" y="845.1" font-family="Liberation Serif, serif" font-size="11.60" font-weight="normal" font-style="italic" text-anchor="middle" fill="#2a2a2a">a</text>
<text x="213.1" y="741.2" font-family="Liberation Sans, sans-serif" font-size="10.90" font-weight="normal" font-style="normal" text-anchor="middle" fill="#2a2a2a" textLength="72.6" lengthAdjust="spacingAndGlyphs">Imaginary part</text>
<defs><path id="c31" d="M411.2 784.7L411.7 782.5L412.2 780.4L412.7 778.1L413.2 775.7L413.7 773.2L414.2 770.5L414.7 767.7L415.2 764.8L415.7 762.0L416.2 759.1L416.7 756.4L417.2 754.0L417.7 751.9L418.2 750.2L418.7 749.1L419.2 748.5L419.7 748.3L420.2 748.3L420.7 748.6L421.2 749.0L421.7 749.6L422.2 750.3L422.7 751.2L423.2 752.3L423.7 753.6L424.2 755.1L424.7 756.9L425.2 758.7L425.7 760.8L426.2 762.9L426.7 765.0L427.2 767.1L427.7 769.2L428.2 771.2L428.7 773.1L429.2 774.8L429.7 776.3L430.2 777.5L430.7 778.5L431.2 779.2L431.7 779.7L432.2 780.0L432.7 780.2L433.2 780.1L433.7 779.9L434.2 779.5L434.7 779.1L435.2 778.6L435.7 778.0L436.2 777.4L436.7 776.8L437.2 776.2L437.7 775.6L438.2 775.1L438.7 774.7L439.2 774.4L439.7 774.1L440.2 773.9L440.7 773.8L441.2 773.8L441.7 773.9L442.2 774.0L442.7 774.3L443.2 774.6L443.7 774.9L444.2 775.4L444.7 775.9L445.2 776.5L445.7 777.1L446.2 777.8L446.7 778.5L447.2 779.3L447.7 780.2L448.2 781.1L448.7 782.0L449.2 783.0L449.7 784.1L450.2 785.2L450.7 786.3L451.2 787.6L451.7 788.9L452.2 790.2L452.7 791.6L453.2 793.1L453.7 794.6L454.2 796.1L454.7 797.6L455.2 799.2L455.7 800.7L456.2 802.3L456.7 803.8L457.2 805.2L457.7 806.6L458.2 807.9L458.7 809.1L459.2 810.1L459.7 810.9L460.2 811.5L460.7 811.9L461.2 812.0L461.7 811.9L462.2 811.5L462.7 810.8L463.2 809.8L463.7 808.5L464.2 806.9L464.7 805.0L465.2 802.8L465.7 800.3L466.2 797.5L466.7 794.5L467.2 791.3L467.7 788.0L468.2 784.7L468.7 781.3L469.2 778.0L469.7 774.8L470.2 771.7L470.7 768.9L471.2 766.4L471.7 764.1L472.2 762.2L472.7 760.5L473.2 759.2L473.7 758.2L474.2 757.5L474.7 757.1L475.2 757.1L475.7 757.5L476.2 758.2L476.7 759.3L477.2 760.9L477.7 762.8L478.2 765.2L478.7 767.9L479.2 770.9L479.7 774.2L480.2 777.4L480.7 780.7L481.2 783.8L481.7 786.8L482.2 789.6L482.7 792.1L483.2 794.3L483.7 796.1L484.2 797.5L484.7 798.5L485.2 799.1L485.7 799.1L486.2 798.7L486.7 797.7L487.2 796.4L487.7 794.6L488.2 792.6L488.7 790.4L489.2 788.0L489.7 785.5L490.2 783.0L490.7 780.5L491.2 778.0L491.7 775.6L492.2 773.2L492.7 771.0L493.2 769.0L493.7 767.1L494.2 765.4L494.7 764.0L495.2 762.8L495.7 761.9L496.2 761.3L496.7 761.0L497.2 761.1L497.7 761.5L498.2 762.3L498.7 763.3L499.2 764.7L499.7 766.2L500.2 768.0L500.7 769.9L501.2 772.0L501.7 774.2L502.2 776.5L502.7 778.9L503.2 781.3L503.7 783.7L504.2 786.0L504.7 788.1L505.2 790.0L505.7 791.4L506.2 792.5L506.7 793.3L507.2 793.7L507.7 793.8L508.2 793.6L508.7 793.2L509.2 792.5L509.7 791.6L510.2 790.6L510.7 789.4L511.2 788.2L511.7 786.9L512.2 785.7L512.7 784.5L513.2 783.4L513.7 782.4L514.2 781.6L514.7 781.0L515.2 780.6L515.7 780.5L516.2 780.7L516.7 781.2L517.2 782.0L517.7 783.1L518.2 784.3L518.7 785.6L519.2 787.0L519.7 788.3L520.2 789.7L520.7 790.9L521.2 792.1L521.7 793.3L522.2 794.5L522.7 795.7L523.2 796.8L523.7 797.9L524.2 798.8L524.7 799.5L525.2 800.0L525.7 800.2L526.2 800.0L526.7 799.5L527.2 798.7L527.7 797.5L528.2 796.0L528.7 794.3L529.2 792.2L529.7 789.9L530.2 787.3L530.7 784.7L531.2 782.0L531.7 779.5L532.2 777.2L532.7 775.3L533.2 773.8L533.7 772.7L534.2 771.8L534.7 771.3L535.2 771.0L535.7 770.9L536.2 771.0L536.7 771.3L537.2 771.8L537.7 772.6L538.2 773.6L538.7 774.9L539.2 776.5L539.7 778.4L540.2 780.4L540.7 782.6L541.2 784.7L541.7 786.8L542.2 788.8L542.7 790.7L543.2 792.4L543.7 793.9L544.2 795.2L544.7 796.3L545.2 797.1L545.7 797.6L546.2 797.9L546.7 797.8L547.2 797.5L547.7 796.8L548.2 795.8L548.7 794.6L549.2 793.1L549.7 791.4L550.2 789.5L550.7 787.5L551.2 785.4L551.7 783.3L552.2 781.3L552.7 779.4L553.2 777.8L553.7 776.4L554.2 775.2L554.7 774.3L555.2 773.5L555.7 773.1L556.2 772.8L556.7 772.8L557.2 772.9L557.7 773.3L558.2 773.9L558.7 774.7L559.2 775.7L559.7 776.9L560.2 778.2L560.7 779.7L561.2 781.4L561.7 783.1L562.2 784.8L562.7 786.5L563.2 788.0L563.7 789.3L564.2 790.4L564.7 791.2L565.2 791.7L565.7 791.9L566.2 791.8L566.7 791.3L567.2 790.6L567.7 789.7L568.2 788.6L568.7 787.4L569.2 786.1L569.5 785.3"/></defs>
<use href="#c31" fill="none" stroke="#0a8a0a" stroke-width="2.0" stroke-dasharray="5.4 2.0 1.4 2.0" stroke-dashoffset="4.5"/>
<use href="#c31" fill="none" stroke="#ff0000" stroke-width="2.0" stroke-dasharray="5.7 2.0 1.4 2.0" stroke-dashoffset="0"/>
<rect x="403.6" y="745.0" width="173.9" height="70.9" fill="none" stroke="#444" stroke-width="1.2"/>
<line x1="398.8" y1="748.2" x2="403.6" y2="748.2" stroke="#444" stroke-width="1.1"/>
<text x="393.4" y="751.8" font-family="Liberation Sans, sans-serif" font-size="10.20" font-weight="normal" font-style="normal" text-anchor="end" fill="#2a2a2a">0.85</text>
<line x1="398.8" y1="812.7" x2="403.6" y2="812.7" stroke="#444" stroke-width="1.1"/>
<text x="393.4" y="816.2" font-family="Liberation Sans, sans-serif" font-size="10.20" font-weight="normal" font-style="normal" text-anchor="end" fill="#2a2a2a">-0.57</text>
<line x1="411.5" y1="815.9" x2="411.5" y2="820.4" stroke="#444" stroke-width="1.1"/>
<text x="410.9" y="832.6" font-family="Liberation Sans, sans-serif" font-size="10.20" font-weight="normal" font-style="normal" text-anchor="middle" fill="#2a2a2a">-0.5</text>
<line x1="490.5" y1="815.9" x2="490.5" y2="820.4" stroke="#444" stroke-width="1.1"/>
<text x="490.5" y="832.6" font-family="Liberation Sans, sans-serif" font-size="10.20" font-weight="normal" font-style="normal" text-anchor="middle" fill="#2a2a2a">0</text>
<line x1="569.5" y1="815.9" x2="569.5" y2="820.4" stroke="#444" stroke-width="1.1"/>
<text x="569.5" y="832.6" font-family="Liberation Sans, sans-serif" font-size="10.20" font-weight="normal" font-style="normal" text-anchor="middle" fill="#2a2a2a">0.5</text>
<text x="490.2" y="845.1" font-family="Liberation Serif, serif" font-size="11.60" font-weight="normal" font-style="italic" text-anchor="middle" fill="#2a2a2a">a</text>
<text x="489.3" y="741.2" font-family="Liberation Sans, sans-serif" font-size="10.90" font-weight="normal" font-style="normal" text-anchor="middle" fill="#2a2a2a" textLength="72.6" lengthAdjust="spacingAndGlyphs">Imaginary part</text>
<text x="61.2" y="337.6" font-family="Liberation Sans, sans-serif" font-size="12.60" font-weight="bold" font-style="normal" text-anchor="start" fill="#222" textLength="15.6" lengthAdjust="spacingAndGlyphs">(b)</text>
<text x="61.0" y="603.6" font-family="Liberation Sans, sans-serif" font-size="12.60" font-weight="bold" font-style="normal" text-anchor="start" fill="#222" textLength="14.3" lengthAdjust="spacingAndGlyphs">(c)</text>
<circle cx="95.0" cy="343.1" r="7.2" fill="#fbe5d6"/>
<text class="w" x="95.0" y="346.5" font-family="Liberation Serif, serif" font-size="9.6" fill="#fff" text-anchor="middle">I</text>
<text x="104.4" y="345.8" font-family="Liberation Sans, sans-serif" font-size="11.60" font-weight="normal" font-style="normal" text-anchor="start" fill="#2a2a2a" textLength="222.2" lengthAdjust="spacingAndGlyphs">Function corresponding to smallest error</text>
<circle cx="372.5" cy="342.8" r="7.2" fill="#f4b183"/>
<text class="w" x="372.5" y="346.2" font-family="Liberation Serif, serif" font-size="9.6" fill="#fff" text-anchor="middle">II</text>
<text x="382.6" y="345.8" font-family="Liberation Sans, sans-serif" font-size="11.60" font-weight="normal" font-style="normal" text-anchor="start" fill="#2a2a2a" textLength="214.4" lengthAdjust="spacingAndGlyphs">Function corresponding to largest error</text>
<circle cx="95.0" cy="602.6" r="7.2" fill="#f4b183"/>
<text class="w" x="95.0" y="606.0" font-family="Liberation Serif, serif" font-size="9.6" fill="#fff" text-anchor="middle">III</text>
<text x="104.4" y="606.2" font-family="Liberation Sans, sans-serif" font-size="11.60" font-weight="normal" font-style="normal" text-anchor="start" fill="#2a2a2a" textLength="222.4" lengthAdjust="spacingAndGlyphs">Function corresponding to smallest error</text>
<circle cx="372.5" cy="602.2" r="7.2" fill="#c55a11"/>
<text class="w" x="372.5" y="605.6" font-family="Liberation Serif, serif" font-size="9.6" fill="#fff" text-anchor="middle">IV</text>
<text x="382.6" y="606.2" font-family="Liberation Sans, sans-serif" font-size="11.60" font-weight="normal" font-style="normal" text-anchor="start" fill="#2a2a2a" textLength="214.4" lengthAdjust="spacingAndGlyphs">Function corresponding to largest error</text>
<text font-family="Liberation Serif, serif" font-size="13.00" fill="#2a2a2a"><tspan x="67.3" y="472.2" font-size="13.00" font-style="italic">f</tspan><tspan x="71.3" y="476.0" font-size="9.36">2</tspan><tspan x="75.1" y="465.6" font-size="10.00">(1)</tspan></text>
<text font-family="Liberation Serif, serif" font-size="13.00" fill="#2a2a2a"><tspan x="343.8" y="472.2" font-size="13.00" font-style="italic">f</tspan><tspan x="347.8" y="476.0" font-size="9.36">35</tspan><tspan x="351.6" y="465.6" font-size="10.00">(1)</tspan></text>
<text font-family="Liberation Serif, serif" font-size="13.00" fill="#2a2a2a"><tspan x="67.5" y="732.2" font-size="13.00" font-style="italic">f</tspan><tspan x="71.5" y="736.0" font-size="9.36">23</tspan><tspan x="75.3" y="725.6" font-size="10.00">(2)</tspan></text>
<text font-family="Liberation Serif, serif" font-size="13.00" fill="#2a2a2a"><tspan x="343.8" y="732.2" font-size="13.00" font-style="italic">f</tspan><tspan x="347.8" y="736.0" font-size="9.36">50</tspan><tspan x="351.6" y="725.6" font-size="10.00">(2)</tspan></text>
<line x1="177.5" y1="863.6" x2="186.5" y2="863.6" stroke="#3a9a3a" stroke-width="1"/>
<circle cx="190.2" cy="863.6" r="0.8" fill="#3a9a3a"/>
<text x="203.9" y="867.0" font-family="Liberation Sans, sans-serif" font-size="13.90" font-weight="normal" font-style="normal" text-anchor="start" fill="#2a2a2a" textLength="91.5" lengthAdjust="spacingAndGlyphs">Target function</text>
<line x1="309.8" y1="863.4" x2="319.0" y2="863.4" stroke="#ff0000" stroke-width="1"/>
<circle cx="322.0" cy="863.4" r="1.0" fill="#ff0000"/>
<circle cx="326.5" cy="863.4" r="1.0" fill="#ff0000"/>
<text x="339.4" y="867.0" font-family="Liberation Sans, sans-serif" font-size="13.90" font-weight="normal" font-style="normal" text-anchor="start" fill="#2a2a2a" textLength="154.0" lengthAdjust="spacingAndGlyphs">Diffractive approximation</text>
</svg></body></html>
